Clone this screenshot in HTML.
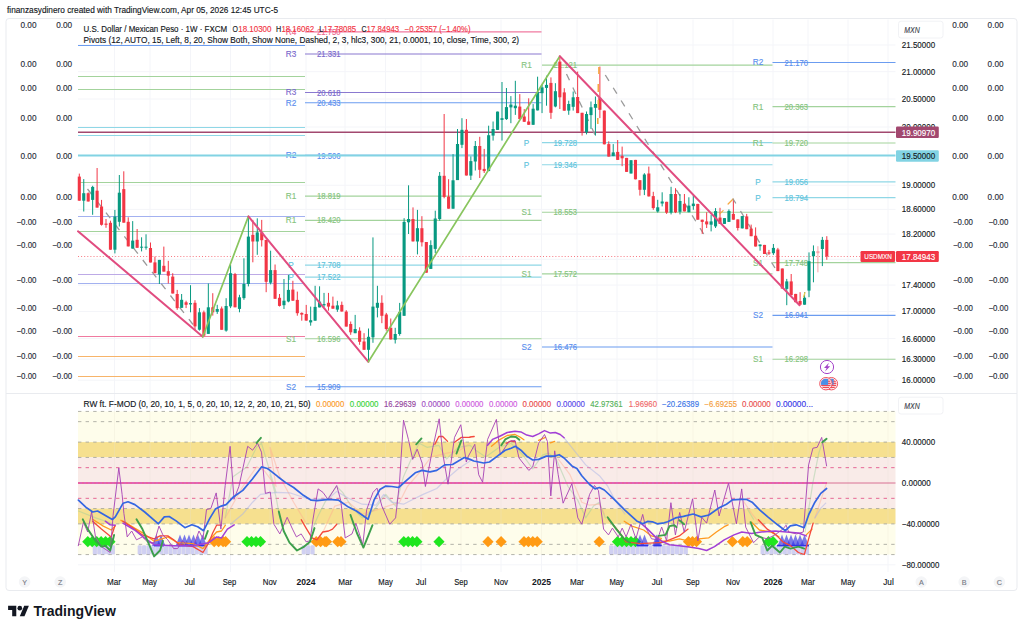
<!DOCTYPE html>
<html><head><meta charset="utf-8"><title>USDMXN</title>
<style>
html,body{margin:0;padding:0;background:#fff;}
body{width:1024px;height:632px;overflow:hidden;font-family:"Liberation Sans", sans-serif;}
svg{display:block;font-family:"Liberation Sans", sans-serif;}
text{font-family:"Liberation Sans", sans-serif;white-space:pre;}
</style></head><body>
<svg width="1024" height="632" viewBox="0 0 1024 632">
<rect x="0" y="0" width="1024" height="632" fill="#ffffff"/>
<text x="7.00" y="13.17" font-size="8.3" fill="#131722" textLength="271.00" lengthAdjust="spacingAndGlyphs" stroke="#131722" stroke-width="0.14" stroke-linejoin="round" >finanzasydinero created with TradingView.com, Apr 05, 2026 12:45 UTC-5</text>
<rect x="6" y="18.5" width="1011" height="572.0" rx="3" fill="#ffffff" stroke="#e9ebef" stroke-width="1"/>
<line x1="114.50" y1="19.50" x2="114.50" y2="572.00" stroke="#f4f5f9" stroke-width="1" />
<line x1="150.00" y1="19.50" x2="150.00" y2="572.00" stroke="#f4f5f9" stroke-width="1" />
<line x1="190.50" y1="19.50" x2="190.50" y2="572.00" stroke="#f4f5f9" stroke-width="1" />
<line x1="230.50" y1="19.50" x2="230.50" y2="572.00" stroke="#f4f5f9" stroke-width="1" />
<line x1="270.00" y1="19.50" x2="270.00" y2="572.00" stroke="#f4f5f9" stroke-width="1" />
<line x1="306.00" y1="19.50" x2="306.00" y2="572.00" stroke="#f4f5f9" stroke-width="1" />
<line x1="345.00" y1="19.50" x2="345.00" y2="572.00" stroke="#f4f5f9" stroke-width="1" />
<line x1="385.50" y1="19.50" x2="385.50" y2="572.00" stroke="#f4f5f9" stroke-width="1" />
<line x1="421.00" y1="19.50" x2="421.00" y2="572.00" stroke="#f4f5f9" stroke-width="1" />
<line x1="461.00" y1="19.50" x2="461.00" y2="572.00" stroke="#f4f5f9" stroke-width="1" />
<line x1="501.00" y1="19.50" x2="501.00" y2="572.00" stroke="#f4f5f9" stroke-width="1" />
<line x1="541.50" y1="19.50" x2="541.50" y2="572.00" stroke="#f4f5f9" stroke-width="1" />
<line x1="577.00" y1="19.50" x2="577.00" y2="572.00" stroke="#f4f5f9" stroke-width="1" />
<line x1="617.00" y1="19.50" x2="617.00" y2="572.00" stroke="#f4f5f9" stroke-width="1" />
<line x1="657.00" y1="19.50" x2="657.00" y2="572.00" stroke="#f4f5f9" stroke-width="1" />
<line x1="693.00" y1="19.50" x2="693.00" y2="572.00" stroke="#f4f5f9" stroke-width="1" />
<line x1="733.00" y1="19.50" x2="733.00" y2="572.00" stroke="#f4f5f9" stroke-width="1" />
<line x1="773.00" y1="19.50" x2="773.00" y2="572.00" stroke="#f4f5f9" stroke-width="1" />
<line x1="808.00" y1="19.50" x2="808.00" y2="572.00" stroke="#f4f5f9" stroke-width="1" />
<line x1="848.00" y1="19.50" x2="848.00" y2="572.00" stroke="#f4f5f9" stroke-width="1" />
<line x1="888.00" y1="19.50" x2="888.00" y2="572.00" stroke="#f4f5f9" stroke-width="1" />
<line x1="78.00" y1="44.99" x2="895.50" y2="44.99" stroke="#f4f5f9" stroke-width="1" />
<line x1="78.00" y1="71.68" x2="895.50" y2="71.68" stroke="#f4f5f9" stroke-width="1" />
<line x1="78.00" y1="99.03" x2="895.50" y2="99.03" stroke="#f4f5f9" stroke-width="1" />
<line x1="78.00" y1="127.04" x2="895.50" y2="127.04" stroke="#f4f5f9" stroke-width="1" />
<line x1="78.00" y1="185.24" x2="895.50" y2="185.24" stroke="#f4f5f9" stroke-width="1" />
<line x1="78.00" y1="209.38" x2="895.50" y2="209.38" stroke="#f4f5f9" stroke-width="1" />
<line x1="78.00" y1="234.05" x2="895.50" y2="234.05" stroke="#f4f5f9" stroke-width="1" />
<line x1="78.00" y1="259.26" x2="895.50" y2="259.26" stroke="#f4f5f9" stroke-width="1" />
<line x1="78.00" y1="285.05" x2="895.50" y2="285.05" stroke="#f4f5f9" stroke-width="1" />
<line x1="78.00" y1="311.44" x2="895.50" y2="311.44" stroke="#f4f5f9" stroke-width="1" />
<line x1="78.00" y1="338.45" x2="895.50" y2="338.45" stroke="#f4f5f9" stroke-width="1" />
<line x1="78.00" y1="359.14" x2="895.50" y2="359.14" stroke="#f4f5f9" stroke-width="1" />
<line x1="78.00" y1="380.22" x2="895.50" y2="380.22" stroke="#f4f5f9" stroke-width="1" />
<line x1="78.00" y1="442.10" x2="895.50" y2="442.10" stroke="#f4f5f9" stroke-width="1" />
<line x1="78.00" y1="483.00" x2="895.50" y2="483.00" stroke="#f4f5f9" stroke-width="1" />
<line x1="78.00" y1="523.90" x2="895.50" y2="523.90" stroke="#f4f5f9" stroke-width="1" />
<line x1="78.00" y1="564.80" x2="895.50" y2="564.80" stroke="#f4f5f9" stroke-width="1" />
<rect x="78.0" y="411.43" width="817.5" height="30.68" fill="#fefdeb"/>
<rect x="78.0" y="442.10" width="817.5" height="15.34" fill="#f6e08f"/>
<rect x="78.0" y="457.44" width="817.5" height="51.12" fill="#f9ebe8"/>
<rect x="78.0" y="508.56" width="817.5" height="15.34" fill="#f6e08f"/>
<rect x="78.0" y="523.90" width="817.5" height="30.68" fill="#fefdeb"/>
<line x1="114.50" y1="411.43" x2="114.50" y2="554.58" stroke="#e6e2d2" stroke-width="1" stroke-opacity="0.28"/>
<line x1="150.00" y1="411.43" x2="150.00" y2="554.58" stroke="#e6e2d2" stroke-width="1" stroke-opacity="0.28"/>
<line x1="190.50" y1="411.43" x2="190.50" y2="554.58" stroke="#e6e2d2" stroke-width="1" stroke-opacity="0.28"/>
<line x1="230.50" y1="411.43" x2="230.50" y2="554.58" stroke="#e6e2d2" stroke-width="1" stroke-opacity="0.28"/>
<line x1="270.00" y1="411.43" x2="270.00" y2="554.58" stroke="#e6e2d2" stroke-width="1" stroke-opacity="0.28"/>
<line x1="306.00" y1="411.43" x2="306.00" y2="554.58" stroke="#e6e2d2" stroke-width="1" stroke-opacity="0.28"/>
<line x1="345.00" y1="411.43" x2="345.00" y2="554.58" stroke="#e6e2d2" stroke-width="1" stroke-opacity="0.28"/>
<line x1="385.50" y1="411.43" x2="385.50" y2="554.58" stroke="#e6e2d2" stroke-width="1" stroke-opacity="0.28"/>
<line x1="421.00" y1="411.43" x2="421.00" y2="554.58" stroke="#e6e2d2" stroke-width="1" stroke-opacity="0.28"/>
<line x1="461.00" y1="411.43" x2="461.00" y2="554.58" stroke="#e6e2d2" stroke-width="1" stroke-opacity="0.28"/>
<line x1="501.00" y1="411.43" x2="501.00" y2="554.58" stroke="#e6e2d2" stroke-width="1" stroke-opacity="0.28"/>
<line x1="541.50" y1="411.43" x2="541.50" y2="554.58" stroke="#e6e2d2" stroke-width="1" stroke-opacity="0.28"/>
<line x1="577.00" y1="411.43" x2="577.00" y2="554.58" stroke="#e6e2d2" stroke-width="1" stroke-opacity="0.28"/>
<line x1="617.00" y1="411.43" x2="617.00" y2="554.58" stroke="#e6e2d2" stroke-width="1" stroke-opacity="0.28"/>
<line x1="657.00" y1="411.43" x2="657.00" y2="554.58" stroke="#e6e2d2" stroke-width="1" stroke-opacity="0.28"/>
<line x1="693.00" y1="411.43" x2="693.00" y2="554.58" stroke="#e6e2d2" stroke-width="1" stroke-opacity="0.28"/>
<line x1="733.00" y1="411.43" x2="733.00" y2="554.58" stroke="#e6e2d2" stroke-width="1" stroke-opacity="0.28"/>
<line x1="773.00" y1="411.43" x2="773.00" y2="554.58" stroke="#e6e2d2" stroke-width="1" stroke-opacity="0.28"/>
<line x1="808.00" y1="411.43" x2="808.00" y2="554.58" stroke="#e6e2d2" stroke-width="1" stroke-opacity="0.28"/>
<line x1="848.00" y1="411.43" x2="848.00" y2="554.58" stroke="#e6e2d2" stroke-width="1" stroke-opacity="0.28"/>
<line x1="888.00" y1="411.43" x2="888.00" y2="554.58" stroke="#e6e2d2" stroke-width="1" stroke-opacity="0.28"/>
<line x1="78.00" y1="411.43" x2="895.50" y2="411.43" stroke="#a0a098" stroke-width="0.8" stroke-dasharray="3.4 4.2"/>
<line x1="78.00" y1="421.65" x2="895.50" y2="421.65" stroke="#a0a098" stroke-width="0.8" stroke-dasharray="3.4 4.2"/>
<line x1="78.00" y1="442.10" x2="895.50" y2="442.10" stroke="#a0a098" stroke-width="0.8" stroke-dasharray="3.4 4.2"/>
<line x1="78.00" y1="457.44" x2="895.50" y2="457.44" stroke="#a0a098" stroke-width="0.8" stroke-dasharray="3.4 4.2"/>
<line x1="78.00" y1="508.56" x2="895.50" y2="508.56" stroke="#a0a098" stroke-width="0.8" stroke-dasharray="3.4 4.2"/>
<line x1="78.00" y1="523.90" x2="895.50" y2="523.90" stroke="#a0a098" stroke-width="0.8" stroke-dasharray="3.4 4.2"/>
<line x1="78.00" y1="544.35" x2="895.50" y2="544.35" stroke="#a0a098" stroke-width="0.8" stroke-dasharray="3.4 4.2"/>
<line x1="78.00" y1="554.58" x2="895.50" y2="554.58" stroke="#a0a098" stroke-width="0.8" stroke-dasharray="3.4 4.2"/>
<line x1="78.00" y1="467.66" x2="895.50" y2="467.66" stroke="#e35a8c" stroke-width="0.9" stroke-dasharray="3.4 4.2"/>
<line x1="78.00" y1="498.34" x2="895.50" y2="498.34" stroke="#e35a8c" stroke-width="0.9" stroke-dasharray="3.4 4.2"/>
<line x1="78.00" y1="45.50" x2="305.00" y2="45.50" stroke="#6b9cf0" stroke-width="1.0" />
<line x1="78.00" y1="76.50" x2="305.00" y2="76.50" stroke="#a3d39c" stroke-width="1.0" />
<line x1="78.00" y1="89.50" x2="305.00" y2="89.50" stroke="#a3d39c" stroke-width="1.0" />
<line x1="78.00" y1="127.50" x2="305.00" y2="127.50" stroke="#8fd7e6" stroke-width="1.0" />
<line x1="78.00" y1="135.50" x2="305.00" y2="135.50" stroke="#8fd7e6" stroke-width="1.0" />
<line x1="78.00" y1="182.50" x2="305.00" y2="182.50" stroke="#a3d39c" stroke-width="1.0" />
<line x1="78.00" y1="216.50" x2="305.00" y2="216.50" stroke="#a3b1f0" stroke-width="1.0" />
<line x1="78.00" y1="231.50" x2="305.00" y2="231.50" stroke="#a3d39c" stroke-width="1.0" />
<line x1="78.00" y1="274.50" x2="305.00" y2="274.50" stroke="#bdaae6" stroke-width="1.0" />
<line x1="78.00" y1="283.50" x2="305.00" y2="283.50" stroke="#a3b1f0" stroke-width="1.0" />
<line x1="78.00" y1="336.50" x2="305.00" y2="336.50" stroke="#f07aa0" stroke-width="1.0" />
<line x1="78.00" y1="356.50" x2="305.00" y2="356.50" stroke="#f7b46a" stroke-width="1.0" />
<line x1="78.00" y1="376.50" x2="305.00" y2="376.50" stroke="#f7b46a" stroke-width="1.0" />
<line x1="305.00" y1="31.87" x2="541.50" y2="31.87" stroke="#f07aa0" stroke-width="1.1" />
<text x="291.00" y="34.81" font-size="8.2" fill="#ee6690" text-anchor="middle" stroke="#ee6690" stroke-width="0.14" stroke-linejoin="round" >R4</text>
<text x="317.00" y="34.95" font-size="8.6" fill="#ee6690" textLength="23.50" lengthAdjust="spacingAndGlyphs" stroke="#ee6690" stroke-width="0.14" stroke-linejoin="round" >21.750</text>
<line x1="305.00" y1="53.94" x2="541.50" y2="53.94" stroke="#8a79d0" stroke-width="1.1" />
<text x="291.00" y="56.88" font-size="8.2" fill="#7b69cc" text-anchor="middle" stroke="#7b69cc" stroke-width="0.14" stroke-linejoin="round" >R3</text>
<text x="317.00" y="57.02" font-size="8.6" fill="#7b69cc" textLength="23.50" lengthAdjust="spacingAndGlyphs" stroke="#7b69cc" stroke-width="0.14" stroke-linejoin="round" >21.331</text>
<line x1="305.00" y1="92.51" x2="541.50" y2="92.51" stroke="#8a79d0" stroke-width="1.1" />
<text x="291.00" y="95.45" font-size="8.2" fill="#7b69cc" text-anchor="middle" stroke="#7b69cc" stroke-width="0.14" stroke-linejoin="round" >R3</text>
<text x="317.00" y="95.59" font-size="8.6" fill="#7b69cc" textLength="23.50" lengthAdjust="spacingAndGlyphs" stroke="#7b69cc" stroke-width="0.14" stroke-linejoin="round" >20.618</text>
<line x1="305.00" y1="102.74" x2="541.50" y2="102.74" stroke="#6b9cf0" stroke-width="1.1" />
<text x="291.00" y="105.68" font-size="8.2" fill="#5b8fee" text-anchor="middle" stroke="#5b8fee" stroke-width="0.14" stroke-linejoin="round" >R2</text>
<text x="317.00" y="105.82" font-size="8.6" fill="#5b8fee" textLength="23.50" lengthAdjust="spacingAndGlyphs" stroke="#5b8fee" stroke-width="0.14" stroke-linejoin="round" >20.433</text>
<line x1="305.00" y1="155.42" x2="541.50" y2="155.42" stroke="#6b9cf0" stroke-width="1.1" />
<text x="291.00" y="158.35" font-size="8.2" fill="#5b8fee" text-anchor="middle" stroke="#5b8fee" stroke-width="0.14" stroke-linejoin="round" >R2</text>
<text x="317.00" y="158.50" font-size="8.6" fill="#5b8fee" textLength="23.50" lengthAdjust="spacingAndGlyphs" stroke="#5b8fee" stroke-width="0.14" stroke-linejoin="round" >19.506</text>
<line x1="305.00" y1="196.10" x2="541.50" y2="196.10" stroke="#a3d39c" stroke-width="1.1" />
<text x="291.00" y="199.04" font-size="8.2" fill="#86c480" text-anchor="middle" stroke="#86c480" stroke-width="0.14" stroke-linejoin="round" >R1</text>
<text x="317.00" y="199.18" font-size="8.6" fill="#86c480" textLength="23.50" lengthAdjust="spacingAndGlyphs" stroke="#86c480" stroke-width="0.14" stroke-linejoin="round" >18.819</text>
<line x1="305.00" y1="220.41" x2="541.50" y2="220.41" stroke="#a3d39c" stroke-width="1.1" />
<text x="291.00" y="223.35" font-size="8.2" fill="#86c480" text-anchor="middle" stroke="#86c480" stroke-width="0.14" stroke-linejoin="round" >R1</text>
<text x="317.00" y="223.49" font-size="8.6" fill="#86c480" textLength="23.50" lengthAdjust="spacingAndGlyphs" stroke="#86c480" stroke-width="0.14" stroke-linejoin="round" >18.420</text>
<line x1="305.00" y1="265.14" x2="541.50" y2="265.14" stroke="#8fd7e6" stroke-width="1.1" />
<text x="291.00" y="268.08" font-size="8.2" fill="#5fc4dd" text-anchor="middle" stroke="#5fc4dd" stroke-width="0.14" stroke-linejoin="round" >P</text>
<text x="317.00" y="268.22" font-size="8.6" fill="#5fc4dd" textLength="23.50" lengthAdjust="spacingAndGlyphs" stroke="#5fc4dd" stroke-width="0.14" stroke-linejoin="round" >17.708</text>
<line x1="305.00" y1="277.12" x2="541.50" y2="277.12" stroke="#8fd7e6" stroke-width="1.1" />
<text x="291.00" y="280.06" font-size="8.2" fill="#5fc4dd" text-anchor="middle" stroke="#5fc4dd" stroke-width="0.14" stroke-linejoin="round" >P</text>
<text x="317.00" y="280.20" font-size="8.6" fill="#5fc4dd" textLength="23.50" lengthAdjust="spacingAndGlyphs" stroke="#5fc4dd" stroke-width="0.14" stroke-linejoin="round" >17.522</text>
<line x1="305.00" y1="338.73" x2="541.50" y2="338.73" stroke="#a3d39c" stroke-width="1.1" />
<text x="291.00" y="341.66" font-size="8.2" fill="#86c480" text-anchor="middle" stroke="#86c480" stroke-width="0.14" stroke-linejoin="round" >S1</text>
<text x="317.00" y="341.80" font-size="8.6" fill="#86c480" textLength="23.50" lengthAdjust="spacingAndGlyphs" stroke="#86c480" stroke-width="0.14" stroke-linejoin="round" >16.596</text>
<line x1="305.00" y1="386.69" x2="541.50" y2="386.69" stroke="#6b9cf0" stroke-width="1.1" />
<text x="291.00" y="389.63" font-size="8.2" fill="#5b8fee" text-anchor="middle" stroke="#5b8fee" stroke-width="0.14" stroke-linejoin="round" >S2</text>
<text x="317.00" y="389.77" font-size="8.6" fill="#5b8fee" textLength="23.50" lengthAdjust="spacingAndGlyphs" stroke="#5b8fee" stroke-width="0.14" stroke-linejoin="round" >15.909</text>
<line x1="542.00" y1="65.17" x2="772.50" y2="65.17" stroke="#a3d39c" stroke-width="1.1" />
<text x="526.50" y="68.10" font-size="8.2" fill="#86c480" text-anchor="middle" stroke="#86c480" stroke-width="0.14" stroke-linejoin="round" >R1</text>
<text x="553.50" y="68.24" font-size="8.6" fill="#86c480" textLength="23.50" lengthAdjust="spacingAndGlyphs" stroke="#86c480" stroke-width="0.14" stroke-linejoin="round" >21.121</text>
<line x1="542.00" y1="142.58" x2="772.50" y2="142.58" stroke="#8fd7e6" stroke-width="1.1" />
<text x="526.50" y="145.51" font-size="8.2" fill="#5fc4dd" text-anchor="middle" stroke="#5fc4dd" stroke-width="0.14" stroke-linejoin="round" >P</text>
<text x="553.50" y="145.66" font-size="8.6" fill="#5fc4dd" textLength="23.50" lengthAdjust="spacingAndGlyphs" stroke="#5fc4dd" stroke-width="0.14" stroke-linejoin="round" >19.728</text>
<line x1="542.00" y1="164.76" x2="772.50" y2="164.76" stroke="#8fd7e6" stroke-width="1.1" />
<text x="526.50" y="167.70" font-size="8.2" fill="#5fc4dd" text-anchor="middle" stroke="#5fc4dd" stroke-width="0.14" stroke-linejoin="round" >P</text>
<text x="553.50" y="167.84" font-size="8.6" fill="#5fc4dd" textLength="23.50" lengthAdjust="spacingAndGlyphs" stroke="#5fc4dd" stroke-width="0.14" stroke-linejoin="round" >19.346</text>
<line x1="542.00" y1="212.25" x2="772.50" y2="212.25" stroke="#a3d39c" stroke-width="1.1" />
<text x="526.50" y="215.19" font-size="8.2" fill="#86c480" text-anchor="middle" stroke="#86c480" stroke-width="0.14" stroke-linejoin="round" >S1</text>
<text x="553.50" y="215.33" font-size="8.6" fill="#86c480" textLength="23.50" lengthAdjust="spacingAndGlyphs" stroke="#86c480" stroke-width="0.14" stroke-linejoin="round" >18.553</text>
<line x1="542.00" y1="273.89" x2="772.50" y2="273.89" stroke="#a3d39c" stroke-width="1.1" />
<text x="526.50" y="276.82" font-size="8.2" fill="#86c480" text-anchor="middle" stroke="#86c480" stroke-width="0.14" stroke-linejoin="round" >S1</text>
<text x="553.50" y="276.97" font-size="8.6" fill="#86c480" textLength="23.50" lengthAdjust="spacingAndGlyphs" stroke="#86c480" stroke-width="0.14" stroke-linejoin="round" >17.572</text>
<line x1="542.00" y1="346.96" x2="772.50" y2="346.96" stroke="#6b9cf0" stroke-width="1.1" />
<text x="526.50" y="349.89" font-size="8.2" fill="#5b8fee" text-anchor="middle" stroke="#5b8fee" stroke-width="0.14" stroke-linejoin="round" >S2</text>
<text x="553.50" y="350.04" font-size="8.6" fill="#5b8fee" textLength="23.50" lengthAdjust="spacingAndGlyphs" stroke="#5b8fee" stroke-width="0.14" stroke-linejoin="round" >16.476</text>
<line x1="772.50" y1="62.54" x2="895.50" y2="62.54" stroke="#6b9cf0" stroke-width="1.1" />
<text x="758.00" y="65.47" font-size="8.2" fill="#5b8fee" text-anchor="middle" stroke="#5b8fee" stroke-width="0.14" stroke-linejoin="round" >R2</text>
<text x="784.50" y="65.62" font-size="8.6" fill="#5b8fee" textLength="23.50" lengthAdjust="spacingAndGlyphs" stroke="#5b8fee" stroke-width="0.14" stroke-linejoin="round" >21.170</text>
<line x1="772.50" y1="106.63" x2="895.50" y2="106.63" stroke="#a3d39c" stroke-width="1.1" />
<text x="758.00" y="109.57" font-size="8.2" fill="#86c480" text-anchor="middle" stroke="#86c480" stroke-width="0.14" stroke-linejoin="round" >R1</text>
<text x="784.50" y="109.71" font-size="8.6" fill="#86c480" textLength="23.50" lengthAdjust="spacingAndGlyphs" stroke="#86c480" stroke-width="0.14" stroke-linejoin="round" >20.363</text>
<line x1="772.50" y1="143.04" x2="895.50" y2="143.04" stroke="#a3d39c" stroke-width="1.1" />
<text x="758.00" y="145.97" font-size="8.2" fill="#86c480" text-anchor="middle" stroke="#86c480" stroke-width="0.14" stroke-linejoin="round" >R1</text>
<text x="784.50" y="146.12" font-size="8.6" fill="#86c480" textLength="23.50" lengthAdjust="spacingAndGlyphs" stroke="#86c480" stroke-width="0.14" stroke-linejoin="round" >19.720</text>
<line x1="772.50" y1="181.90" x2="895.50" y2="181.90" stroke="#8fd7e6" stroke-width="1.1" />
<text x="758.00" y="184.84" font-size="8.2" fill="#5fc4dd" text-anchor="middle" stroke="#5fc4dd" stroke-width="0.14" stroke-linejoin="round" >P</text>
<text x="784.50" y="184.98" font-size="8.6" fill="#5fc4dd" textLength="23.50" lengthAdjust="spacingAndGlyphs" stroke="#5fc4dd" stroke-width="0.14" stroke-linejoin="round" >19.056</text>
<line x1="772.50" y1="197.61" x2="895.50" y2="197.61" stroke="#8fd7e6" stroke-width="1.1" />
<text x="758.00" y="200.54" font-size="8.2" fill="#5fc4dd" text-anchor="middle" stroke="#5fc4dd" stroke-width="0.14" stroke-linejoin="round" >P</text>
<text x="784.50" y="200.69" font-size="8.6" fill="#5fc4dd" textLength="23.50" lengthAdjust="spacingAndGlyphs" stroke="#5fc4dd" stroke-width="0.14" stroke-linejoin="round" >18.794</text>
<line x1="772.50" y1="262.58" x2="895.50" y2="262.58" stroke="#a3d39c" stroke-width="1.1" />
<text x="758.00" y="265.52" font-size="8.2" fill="#86c480" text-anchor="middle" stroke="#86c480" stroke-width="0.14" stroke-linejoin="round" >S1</text>
<text x="784.50" y="265.66" font-size="8.6" fill="#86c480" textLength="23.50" lengthAdjust="spacingAndGlyphs" stroke="#86c480" stroke-width="0.14" stroke-linejoin="round" >17.748</text>
<line x1="772.50" y1="315.38" x2="895.50" y2="315.38" stroke="#6b9cf0" stroke-width="1.1" />
<text x="758.00" y="318.32" font-size="8.2" fill="#5b8fee" text-anchor="middle" stroke="#5b8fee" stroke-width="0.14" stroke-linejoin="round" >S2</text>
<text x="784.50" y="318.46" font-size="8.6" fill="#5b8fee" textLength="23.50" lengthAdjust="spacingAndGlyphs" stroke="#5b8fee" stroke-width="0.14" stroke-linejoin="round" >16.941</text>
<line x1="772.50" y1="359.28" x2="895.50" y2="359.28" stroke="#a3d39c" stroke-width="1.1" />
<text x="758.00" y="362.22" font-size="8.2" fill="#86c480" text-anchor="middle" stroke="#86c480" stroke-width="0.14" stroke-linejoin="round" >S1</text>
<text x="784.50" y="362.36" font-size="8.6" fill="#86c480" textLength="23.50" lengthAdjust="spacingAndGlyphs" stroke="#86c480" stroke-width="0.14" stroke-linejoin="round" >16.298</text>
<line x1="78.00" y1="132.18" x2="895.50" y2="132.18" stroke="#a2486f" stroke-width="1.6" />
<line x1="78.00" y1="155.47" x2="895.50" y2="155.47" stroke="#82d3e3" stroke-width="2.0" />
<line x1="78.00" y1="256.50" x2="860.00" y2="256.50" stroke="#f23645" stroke-width="0.9" stroke-dasharray="1 2.1" stroke-opacity="0.75"/>
<line x1="87.50" y1="189.00" x2="193.00" y2="324.50" stroke="#9a9a9a" stroke-width="1.3" stroke-dasharray="7 8" stroke-linecap="butt"/>
<line x1="566.50" y1="74.00" x2="596.50" y2="138.00" stroke="#9a9a9a" stroke-width="1.3" stroke-dasharray="7 8" stroke-linecap="butt"/>
<line x1="605.30" y1="75.00" x2="704.30" y2="235.00" stroke="#9a9a9a" stroke-width="1.3" stroke-dasharray="7 8" stroke-linecap="butt"/>
<line x1="740.50" y1="211.00" x2="775.00" y2="268.00" stroke="#9a9a9a" stroke-width="1.3" stroke-dasharray="7 8" stroke-linecap="butt"/>
<g><line x1="79.30" y1="173.6" x2="79.30" y2="200.7" stroke="#f23645" stroke-width="1"/><rect x="77.75" y="176.6" width="3.1" height="24.1" fill="#f23645"/></g>
<g><line x1="83.75" y1="179.1" x2="83.75" y2="211.5" stroke="#089981" stroke-width="1"/><rect x="82.20" y="193.2" width="3.1" height="7.5" fill="#089981"/></g>
<g><line x1="88.20" y1="192.4" x2="88.20" y2="201.5" stroke="#f23645" stroke-width="1"/><rect x="86.65" y="193.2" width="3.1" height="8.3" fill="#f23645"/></g>
<g><line x1="92.65" y1="185.8" x2="92.65" y2="214.8" stroke="#089981" stroke-width="1"/><rect x="91.10" y="186.9" width="3.1" height="13.0" fill="#089981"/></g>
<g><line x1="97.10" y1="168.0" x2="97.10" y2="207.7" stroke="#f23645" stroke-width="1"/><rect x="95.55" y="190.7" width="3.1" height="16.9" fill="#f23645"/></g>
<g><line x1="101.55" y1="199.9" x2="101.55" y2="225.6" stroke="#f23645" stroke-width="1"/><rect x="100.00" y="206.5" width="3.1" height="18.3" fill="#f23645"/></g>
<g><line x1="106.00" y1="219.0" x2="106.00" y2="227.8" stroke="#f23645" stroke-width="1"/><rect x="104.45" y="223.6" width="3.1" height="1.2" fill="#f23645"/></g>
<g><line x1="110.45" y1="220.7" x2="110.45" y2="249.7" stroke="#f23645" stroke-width="1"/><rect x="108.90" y="222.8" width="3.1" height="26.9" fill="#f23645"/></g>
<g><line x1="114.90" y1="209.9" x2="114.90" y2="253.4" stroke="#089981" stroke-width="1"/><rect x="113.35" y="216.5" width="3.1" height="33.2" fill="#089981"/></g>
<g><line x1="119.34" y1="175.0" x2="119.34" y2="226.5" stroke="#089981" stroke-width="1"/><rect x="117.79" y="192.7" width="3.1" height="29.1" fill="#089981"/></g>
<g><line x1="123.79" y1="171.3" x2="123.79" y2="222.6" stroke="#f23645" stroke-width="1"/><rect x="122.24" y="189.1" width="3.1" height="33.6" fill="#f23645"/></g>
<g><line x1="128.24" y1="217.3" x2="128.24" y2="246.4" stroke="#f23645" stroke-width="1"/><rect x="126.69" y="221.8" width="3.1" height="24.6" fill="#f23645"/></g>
<g><line x1="132.69" y1="221.1" x2="132.69" y2="248.6" stroke="#089981" stroke-width="1"/><rect x="131.14" y="240.6" width="3.1" height="8.0" fill="#089981"/></g>
<g><line x1="137.14" y1="229.0" x2="137.14" y2="247.7" stroke="#f23645" stroke-width="1"/><rect x="135.59" y="239.8" width="3.1" height="8.0" fill="#f23645"/></g>
<g><line x1="141.59" y1="237.3" x2="141.59" y2="251.4" stroke="#089981" stroke-width="1"/><rect x="140.04" y="246.7" width="3.1" height="1.0" fill="#089981"/></g>
<g><line x1="146.04" y1="234.3" x2="146.04" y2="249.7" stroke="#089981" stroke-width="1"/><rect x="144.49" y="246.7" width="3.1" height="1.0" fill="#089981"/></g>
<g><line x1="150.49" y1="242.5" x2="150.49" y2="262.4" stroke="#f23645" stroke-width="1"/><rect x="148.94" y="248.0" width="3.1" height="14.5" fill="#f23645"/></g>
<g><line x1="154.94" y1="256.6" x2="154.94" y2="273.2" stroke="#f23645" stroke-width="1"/><rect x="153.39" y="262.4" width="3.1" height="10.8" fill="#f23645"/></g>
<g><line x1="159.39" y1="259.9" x2="159.39" y2="284.0" stroke="#089981" stroke-width="1"/><rect x="157.84" y="259.9" width="3.1" height="14.6" fill="#089981"/></g>
<g><line x1="163.84" y1="246.6" x2="163.84" y2="271.6" stroke="#f23645" stroke-width="1"/><rect x="162.29" y="265.8" width="3.1" height="5.8" fill="#f23645"/></g>
<g><line x1="168.29" y1="260.8" x2="168.29" y2="283.5" stroke="#f23645" stroke-width="1"/><rect x="166.74" y="271.2" width="3.1" height="4.5" fill="#f23645"/></g>
<g><line x1="172.74" y1="273.2" x2="172.74" y2="293.5" stroke="#f23645" stroke-width="1"/><rect x="171.19" y="276.6" width="3.1" height="16.9" fill="#f23645"/></g>
<g><line x1="177.19" y1="289.9" x2="177.19" y2="309.8" stroke="#f23645" stroke-width="1"/><rect x="175.64" y="294.0" width="3.1" height="14.1" fill="#f23645"/></g>
<g><line x1="181.64" y1="294.0" x2="181.64" y2="307.8" stroke="#089981" stroke-width="1"/><rect x="180.09" y="299.8" width="3.1" height="8.0" fill="#089981"/></g>
<g><line x1="186.09" y1="300.7" x2="186.09" y2="308.1" stroke="#f23645" stroke-width="1"/><rect x="184.54" y="302.3" width="3.1" height="2.5" fill="#f23645"/></g>
<g><line x1="190.53" y1="285.2" x2="190.53" y2="312.3" stroke="#089981" stroke-width="1"/><rect x="188.98" y="303.1" width="3.1" height="1.3" fill="#089981"/></g>
<g><line x1="194.98" y1="300.2" x2="194.98" y2="330.6" stroke="#f23645" stroke-width="1"/><rect x="193.43" y="302.8" width="3.1" height="23.6" fill="#f23645"/></g>
<g><line x1="199.43" y1="308.1" x2="199.43" y2="330.6" stroke="#089981" stroke-width="1"/><rect x="197.88" y="312.3" width="3.1" height="17.4" fill="#089981"/></g>
<g><line x1="203.88" y1="310.6" x2="203.88" y2="336.7" stroke="#f23645" stroke-width="1"/><rect x="202.33" y="312.3" width="3.1" height="23.3" fill="#f23645"/></g>
<g><line x1="208.33" y1="283.5" x2="208.33" y2="333.9" stroke="#089981" stroke-width="1"/><rect x="206.78" y="307.3" width="3.1" height="26.6" fill="#089981"/></g>
<g><line x1="212.78" y1="293.2" x2="212.78" y2="315.6" stroke="#f23645" stroke-width="1"/><rect x="211.23" y="307.3" width="3.1" height="5.0" fill="#f23645"/></g>
<g><line x1="217.23" y1="304.8" x2="217.23" y2="313.9" stroke="#089981" stroke-width="1"/><rect x="215.68" y="309.0" width="3.1" height="2.8" fill="#089981"/></g>
<g><line x1="221.68" y1="306.5" x2="221.68" y2="329.7" stroke="#f23645" stroke-width="1"/><rect x="220.13" y="308.5" width="3.1" height="21.3" fill="#f23645"/></g>
<g><line x1="226.13" y1="298.2" x2="226.13" y2="331.7" stroke="#089981" stroke-width="1"/><rect x="224.58" y="306.0" width="3.1" height="24.6" fill="#089981"/></g>
<g><line x1="230.58" y1="264.9" x2="230.58" y2="308.1" stroke="#089981" stroke-width="1"/><rect x="229.03" y="273.2" width="3.1" height="33.2" fill="#089981"/></g>
<g><line x1="235.03" y1="272.9" x2="235.03" y2="307.3" stroke="#f23645" stroke-width="1"/><rect x="233.48" y="274.1" width="3.1" height="33.2" fill="#f23645"/></g>
<g><line x1="239.48" y1="294.8" x2="239.48" y2="312.3" stroke="#089981" stroke-width="1"/><rect x="237.93" y="297.3" width="3.1" height="11.6" fill="#089981"/></g>
<g><line x1="243.93" y1="258.3" x2="243.93" y2="299.8" stroke="#089981" stroke-width="1"/><rect x="242.38" y="284.0" width="3.1" height="14.1" fill="#089981"/></g>
<g><line x1="248.38" y1="216.6" x2="248.38" y2="286.4" stroke="#089981" stroke-width="1"/><rect x="246.83" y="236.6" width="3.1" height="47.4" fill="#089981"/></g>
<g><line x1="252.83" y1="219.9" x2="252.83" y2="262.3" stroke="#f23645" stroke-width="1"/><rect x="251.28" y="234.9" width="3.1" height="6.6" fill="#f23645"/></g>
<g><line x1="257.28" y1="218.3" x2="257.28" y2="254.8" stroke="#089981" stroke-width="1"/><rect x="255.73" y="232.4" width="3.1" height="9.1" fill="#089981"/></g>
<g><line x1="261.73" y1="219.9" x2="261.73" y2="246.5" stroke="#f23645" stroke-width="1"/><rect x="260.18" y="232.4" width="3.1" height="7.8" fill="#f23645"/></g>
<g><line x1="266.17" y1="239.9" x2="266.17" y2="292.2" stroke="#f23645" stroke-width="1"/><rect x="264.62" y="239.9" width="3.1" height="41.9" fill="#f23645"/></g>
<g><line x1="270.62" y1="250.7" x2="270.62" y2="284.4" stroke="#089981" stroke-width="1"/><rect x="269.07" y="270.1" width="3.1" height="12.6" fill="#089981"/></g>
<g><line x1="275.07" y1="264.5" x2="275.07" y2="298.9" stroke="#f23645" stroke-width="1"/><rect x="273.52" y="270.1" width="3.1" height="28.7" fill="#f23645"/></g>
<g><line x1="279.52" y1="294.0" x2="279.52" y2="306.5" stroke="#f23645" stroke-width="1"/><rect x="277.97" y="297.8" width="3.1" height="8.1" fill="#f23645"/></g>
<g><line x1="283.97" y1="279.0" x2="283.97" y2="309.0" stroke="#089981" stroke-width="1"/><rect x="282.42" y="300.7" width="3.1" height="4.5" fill="#089981"/></g>
<g><line x1="288.42" y1="274.9" x2="288.42" y2="302.3" stroke="#089981" stroke-width="1"/><rect x="286.87" y="289.9" width="3.1" height="11.6" fill="#089981"/></g>
<g><line x1="292.87" y1="280.8" x2="292.87" y2="300.8" stroke="#f23645" stroke-width="1"/><rect x="291.32" y="289.6" width="3.1" height="11.1" fill="#f23645"/></g>
<g><line x1="297.32" y1="291.6" x2="297.32" y2="315.7" stroke="#f23645" stroke-width="1"/><rect x="295.77" y="299.9" width="3.1" height="13.3" fill="#f23645"/></g>
<g><line x1="301.77" y1="312.4" x2="301.77" y2="320.7" stroke="#f23645" stroke-width="1"/><rect x="300.22" y="312.9" width="3.1" height="1.7" fill="#f23645"/></g>
<g><line x1="306.22" y1="304.9" x2="306.22" y2="320.7" stroke="#f23645" stroke-width="1"/><rect x="304.67" y="314.0" width="3.1" height="6.6" fill="#f23645"/></g>
<g><line x1="310.67" y1="306.6" x2="310.67" y2="325.7" stroke="#089981" stroke-width="1"/><rect x="309.12" y="320.2" width="3.1" height="2.2" fill="#089981"/></g>
<g><line x1="315.12" y1="285.8" x2="315.12" y2="320.7" stroke="#089981" stroke-width="1"/><rect x="313.57" y="306.9" width="3.1" height="13.8" fill="#089981"/></g>
<g><line x1="319.57" y1="286.3" x2="319.57" y2="307.4" stroke="#089981" stroke-width="1"/><rect x="318.02" y="301.6" width="3.1" height="5.8" fill="#089981"/></g>
<g><line x1="324.02" y1="292.9" x2="324.02" y2="307.4" stroke="#089981" stroke-width="1"/><rect x="322.47" y="304.1" width="3.1" height="1.2" fill="#089981"/></g>
<g><line x1="328.47" y1="292.9" x2="328.47" y2="310.7" stroke="#f23645" stroke-width="1"/><rect x="326.92" y="302.8" width="3.1" height="3.8" fill="#f23645"/></g>
<g><line x1="332.92" y1="296.6" x2="332.92" y2="308.7" stroke="#f23645" stroke-width="1"/><rect x="331.37" y="305.7" width="3.1" height="3.0" fill="#f23645"/></g>
<g><line x1="337.37" y1="300.8" x2="337.37" y2="311.9" stroke="#089981" stroke-width="1"/><rect x="335.82" y="305.4" width="3.1" height="4.2" fill="#089981"/></g>
<g><line x1="341.81" y1="301.6" x2="341.81" y2="311.6" stroke="#f23645" stroke-width="1"/><rect x="340.26" y="304.9" width="3.1" height="6.6" fill="#f23645"/></g>
<g><line x1="346.26" y1="310.2" x2="346.26" y2="326.5" stroke="#f23645" stroke-width="1"/><rect x="344.71" y="311.6" width="3.1" height="15.0" fill="#f23645"/></g>
<g><line x1="350.71" y1="321.5" x2="350.71" y2="334.8" stroke="#f23645" stroke-width="1"/><rect x="349.16" y="324.0" width="3.1" height="8.3" fill="#f23645"/></g>
<g><line x1="355.16" y1="314.9" x2="355.16" y2="333.2" stroke="#089981" stroke-width="1"/><rect x="353.61" y="329.0" width="3.1" height="4.2" fill="#089981"/></g>
<g><line x1="359.61" y1="327.3" x2="359.61" y2="344.8" stroke="#f23645" stroke-width="1"/><rect x="358.06" y="330.7" width="3.1" height="11.1" fill="#f23645"/></g>
<g><line x1="364.06" y1="333.2" x2="364.06" y2="349.8" stroke="#f23645" stroke-width="1"/><rect x="362.51" y="341.5" width="3.1" height="8.3" fill="#f23645"/></g>
<g><line x1="368.51" y1="328.5" x2="368.51" y2="361.4" stroke="#089981" stroke-width="1"/><rect x="366.96" y="336.8" width="3.1" height="13.0" fill="#089981"/></g>
<g><line x1="372.96" y1="237.4" x2="372.96" y2="342.8" stroke="#089981" stroke-width="1"/><rect x="371.41" y="306.6" width="3.1" height="30.7" fill="#089981"/></g>
<g><line x1="377.41" y1="285.8" x2="377.41" y2="317.4" stroke="#089981" stroke-width="1"/><rect x="375.86" y="302.8" width="3.1" height="5.0" fill="#089981"/></g>
<g><line x1="381.86" y1="295.3" x2="381.86" y2="323.2" stroke="#f23645" stroke-width="1"/><rect x="380.31" y="302.8" width="3.1" height="13.0" fill="#f23645"/></g>
<g><line x1="386.31" y1="312.9" x2="386.31" y2="330.7" stroke="#f23645" stroke-width="1"/><rect x="384.76" y="314.5" width="3.1" height="14.5" fill="#f23645"/></g>
<g><line x1="390.76" y1="318.5" x2="390.76" y2="339.5" stroke="#f23645" stroke-width="1"/><rect x="389.21" y="327.8" width="3.1" height="11.6" fill="#f23645"/></g>
<g><line x1="395.21" y1="327.8" x2="395.21" y2="343.5" stroke="#089981" stroke-width="1"/><rect x="393.66" y="334.0" width="3.1" height="5.8" fill="#089981"/></g>
<g><line x1="399.66" y1="302.9" x2="399.66" y2="335.7" stroke="#089981" stroke-width="1"/><rect x="398.11" y="311.9" width="3.1" height="22.1" fill="#089981"/></g>
<g><line x1="404.11" y1="218.2" x2="404.11" y2="315.7" stroke="#089981" stroke-width="1"/><rect x="402.56" y="221.9" width="3.1" height="93.9" fill="#089981"/></g>
<g><line x1="408.56" y1="185.3" x2="408.56" y2="234.0" stroke="#089981" stroke-width="1"/><rect x="407.01" y="219.0" width="3.1" height="3.3" fill="#089981"/></g>
<g><line x1="413.00" y1="207.4" x2="413.00" y2="241.5" stroke="#f23645" stroke-width="1"/><rect x="411.45" y="219.0" width="3.1" height="22.4" fill="#f23645"/></g>
<g><line x1="417.45" y1="209.9" x2="417.45" y2="254.4" stroke="#089981" stroke-width="1"/><rect x="415.90" y="228.2" width="3.1" height="13.3" fill="#089981"/></g>
<g><line x1="421.90" y1="216.2" x2="421.90" y2="246.5" stroke="#f23645" stroke-width="1"/><rect x="420.35" y="228.2" width="3.1" height="14.1" fill="#f23645"/></g>
<g><line x1="426.35" y1="242.0" x2="426.35" y2="272.7" stroke="#f23645" stroke-width="1"/><rect x="424.80" y="242.0" width="3.1" height="30.7" fill="#f23645"/></g>
<g><line x1="430.80" y1="240.3" x2="430.80" y2="268.9" stroke="#089981" stroke-width="1"/><rect x="429.25" y="245.1" width="3.1" height="23.8" fill="#089981"/></g>
<g><line x1="435.25" y1="210.7" x2="435.25" y2="253.1" stroke="#089981" stroke-width="1"/><rect x="433.70" y="218.5" width="3.1" height="30.4" fill="#089981"/></g>
<g><line x1="439.70" y1="172.0" x2="439.70" y2="220.7" stroke="#089981" stroke-width="1"/><rect x="438.15" y="175.8" width="3.1" height="43.2" fill="#089981"/></g>
<g><line x1="444.15" y1="114.0" x2="444.15" y2="198.3" stroke="#f23645" stroke-width="1"/><rect x="442.60" y="175.8" width="3.1" height="21.1" fill="#f23645"/></g>
<g><line x1="448.60" y1="179.2" x2="448.60" y2="208.7" stroke="#f23645" stroke-width="1"/><rect x="447.05" y="196.6" width="3.1" height="12.1" fill="#f23645"/></g>
<g><line x1="453.05" y1="154.1" x2="453.05" y2="208.7" stroke="#089981" stroke-width="1"/><rect x="451.50" y="180.3" width="3.1" height="28.4" fill="#089981"/></g>
<g><line x1="457.50" y1="129.0" x2="457.50" y2="180.0" stroke="#089981" stroke-width="1"/><rect x="455.95" y="144.0" width="3.1" height="36.1" fill="#089981"/></g>
<g><line x1="461.95" y1="118.2" x2="461.95" y2="148.1" stroke="#089981" stroke-width="1"/><rect x="460.40" y="129.8" width="3.1" height="15.0" fill="#089981"/></g>
<g><line x1="466.40" y1="119.0" x2="466.40" y2="175.5" stroke="#f23645" stroke-width="1"/><rect x="464.85" y="129.8" width="3.1" height="45.7" fill="#f23645"/></g>
<g><line x1="470.85" y1="156.4" x2="470.85" y2="180.0" stroke="#089981" stroke-width="1"/><rect x="469.30" y="161.1" width="3.1" height="14.5" fill="#089981"/></g>
<g><line x1="475.30" y1="141.0" x2="475.30" y2="170.5" stroke="#089981" stroke-width="1"/><rect x="473.75" y="146.0" width="3.1" height="15.5" fill="#089981"/></g>
<g><line x1="479.75" y1="136.8" x2="479.75" y2="178.0" stroke="#f23645" stroke-width="1"/><rect x="478.20" y="146.0" width="3.1" height="23.8" fill="#f23645"/></g>
<g><line x1="484.20" y1="148.9" x2="484.20" y2="173.0" stroke="#f23645" stroke-width="1"/><rect x="482.65" y="168.9" width="3.1" height="2.2" fill="#f23645"/></g>
<g><line x1="488.64" y1="125.7" x2="488.64" y2="171.0" stroke="#089981" stroke-width="1"/><rect x="487.09" y="135.2" width="3.1" height="35.9" fill="#089981"/></g>
<g><line x1="493.09" y1="121.5" x2="493.09" y2="140.6" stroke="#089981" stroke-width="1"/><rect x="491.54" y="129.0" width="3.1" height="6.6" fill="#089981"/></g>
<g><line x1="497.54" y1="111.6" x2="497.54" y2="129.8" stroke="#089981" stroke-width="1"/><rect x="495.99" y="111.6" width="3.1" height="18.3" fill="#089981"/></g>
<g><line x1="501.99" y1="82.0" x2="501.99" y2="140.6" stroke="#089981" stroke-width="1"/><rect x="500.44" y="118.2" width="3.1" height="1.7" fill="#089981"/></g>
<g><line x1="506.44" y1="88.0" x2="506.44" y2="119.9" stroke="#089981" stroke-width="1"/><rect x="504.89" y="107.1" width="3.1" height="12.0" fill="#089981"/></g>
<g><line x1="510.89" y1="96.1" x2="510.89" y2="123.2" stroke="#089981" stroke-width="1"/><rect x="509.34" y="104.6" width="3.1" height="2.8" fill="#089981"/></g>
<g><line x1="515.34" y1="80.8" x2="515.34" y2="114.9" stroke="#089981" stroke-width="1"/><rect x="513.79" y="105.7" width="3.1" height="2.5" fill="#089981"/></g>
<g><line x1="519.79" y1="94.1" x2="519.79" y2="119.0" stroke="#f23645" stroke-width="1"/><rect x="518.24" y="106.6" width="3.1" height="12.5" fill="#f23645"/></g>
<g><line x1="524.24" y1="109.1" x2="524.24" y2="121.9" stroke="#f23645" stroke-width="1"/><rect x="522.69" y="116.5" width="3.1" height="5.3" fill="#f23645"/></g>
<g><line x1="528.69" y1="98.3" x2="528.69" y2="124.9" stroke="#f23645" stroke-width="1"/><rect x="527.14" y="121.5" width="3.1" height="3.3" fill="#f23645"/></g>
<g><line x1="533.14" y1="104.1" x2="533.14" y2="124.9" stroke="#089981" stroke-width="1"/><rect x="531.59" y="108.7" width="3.1" height="16.1" fill="#089981"/></g>
<g><line x1="537.59" y1="76.7" x2="537.59" y2="110.4" stroke="#089981" stroke-width="1"/><rect x="536.04" y="92.1" width="3.1" height="18.3" fill="#089981"/></g>
<g><line x1="542.04" y1="84.9" x2="542.04" y2="113.1" stroke="#089981" stroke-width="1"/><rect x="540.49" y="87.4" width="3.1" height="5.8" fill="#089981"/></g>
<g><line x1="546.49" y1="75.7" x2="546.49" y2="105.7" stroke="#089981" stroke-width="1"/><rect x="544.94" y="84.9" width="3.1" height="3.0" fill="#089981"/></g>
<g><line x1="550.94" y1="77.4" x2="550.94" y2="118.9" stroke="#f23645" stroke-width="1"/><rect x="549.39" y="82.9" width="3.1" height="29.9" fill="#f23645"/></g>
<g><line x1="555.39" y1="83.2" x2="555.39" y2="107.3" stroke="#089981" stroke-width="1"/><rect x="553.84" y="91.2" width="3.1" height="15.3" fill="#089981"/></g>
<g><line x1="559.84" y1="56.3" x2="559.84" y2="109.0" stroke="#f23645" stroke-width="1"/><rect x="558.29" y="61.6" width="3.1" height="35.7" fill="#f23645"/></g>
<g><line x1="564.28" y1="88.2" x2="564.28" y2="110.6" stroke="#f23645" stroke-width="1"/><rect x="562.73" y="92.4" width="3.1" height="18.3" fill="#f23645"/></g>
<g><line x1="568.73" y1="100.7" x2="568.73" y2="114.8" stroke="#089981" stroke-width="1"/><rect x="567.18" y="104.0" width="3.1" height="6.6" fill="#089981"/></g>
<g><line x1="573.18" y1="91.5" x2="573.18" y2="110.6" stroke="#089981" stroke-width="1"/><rect x="571.63" y="97.3" width="3.1" height="9.5" fill="#089981"/></g>
<g><line x1="577.63" y1="71.6" x2="577.63" y2="113.1" stroke="#f23645" stroke-width="1"/><rect x="576.08" y="97.0" width="3.1" height="16.1" fill="#f23645"/></g>
<g><line x1="582.08" y1="112.8" x2="582.08" y2="135.6" stroke="#f23645" stroke-width="1"/><rect x="580.53" y="112.8" width="3.1" height="18.9" fill="#f23645"/></g>
<g><line x1="586.53" y1="111.5" x2="586.53" y2="134.4" stroke="#089981" stroke-width="1"/><rect x="584.98" y="114.0" width="3.1" height="18.3" fill="#089981"/></g>
<g><line x1="590.98" y1="101.5" x2="590.98" y2="128.9" stroke="#089981" stroke-width="1"/><rect x="589.43" y="107.3" width="3.1" height="7.8" fill="#089981"/></g>
<g><line x1="595.43" y1="96.5" x2="595.43" y2="135.6" stroke="#089981" stroke-width="1"/><rect x="593.88" y="104.0" width="3.1" height="3.8" fill="#089981"/></g>
<g><line x1="599.88" y1="66.6" x2="599.88" y2="118.1" stroke="#f23645" stroke-width="1"/><rect x="598.33" y="97.8" width="3.1" height="12.0" fill="#f23645"/></g>
<g><line x1="604.33" y1="110.6" x2="604.33" y2="144.4" stroke="#f23645" stroke-width="1"/><rect x="602.78" y="110.6" width="3.1" height="33.7" fill="#f23645"/></g>
<g><line x1="608.78" y1="141.3" x2="608.78" y2="156.6" stroke="#f23645" stroke-width="1"/><rect x="607.23" y="144.1" width="3.1" height="12.5" fill="#f23645"/></g>
<g><line x1="613.23" y1="144.1" x2="613.23" y2="156.1" stroke="#089981" stroke-width="1"/><rect x="611.68" y="152.4" width="3.1" height="3.7" fill="#089981"/></g>
<g><line x1="617.68" y1="140.0" x2="617.68" y2="159.9" stroke="#f23645" stroke-width="1"/><rect x="616.13" y="151.9" width="3.1" height="8.0" fill="#f23645"/></g>
<g><line x1="622.13" y1="146.6" x2="622.13" y2="166.2" stroke="#f23645" stroke-width="1"/><rect x="620.58" y="155.8" width="3.1" height="2.5" fill="#f23645"/></g>
<g><line x1="626.58" y1="157.9" x2="626.58" y2="171.9" stroke="#f23645" stroke-width="1"/><rect x="625.03" y="157.9" width="3.1" height="14.0" fill="#f23645"/></g>
<g><line x1="631.03" y1="160.2" x2="631.03" y2="173.5" stroke="#089981" stroke-width="1"/><rect x="629.48" y="160.2" width="3.1" height="13.3" fill="#089981"/></g>
<g><line x1="635.47" y1="159.9" x2="635.47" y2="179.4" stroke="#f23645" stroke-width="1"/><rect x="633.92" y="159.9" width="3.1" height="19.4" fill="#f23645"/></g>
<g><line x1="639.92" y1="180.2" x2="639.92" y2="195.6" stroke="#f23645" stroke-width="1"/><rect x="638.37" y="180.2" width="3.1" height="9.6" fill="#f23645"/></g>
<g><line x1="644.37" y1="173.2" x2="644.37" y2="195.1" stroke="#089981" stroke-width="1"/><rect x="642.82" y="174.5" width="3.1" height="15.3" fill="#089981"/></g>
<g><line x1="648.82" y1="166.6" x2="648.82" y2="196.5" stroke="#f23645" stroke-width="1"/><rect x="647.27" y="173.5" width="3.1" height="22.9" fill="#f23645"/></g>
<g><line x1="653.27" y1="191.8" x2="653.27" y2="209.8" stroke="#f23645" stroke-width="1"/><rect x="651.72" y="196.1" width="3.1" height="12.0" fill="#f23645"/></g>
<g><line x1="657.72" y1="199.8" x2="657.72" y2="212.6" stroke="#089981" stroke-width="1"/><rect x="656.17" y="207.3" width="3.1" height="4.2" fill="#089981"/></g>
<g><line x1="662.17" y1="192.3" x2="662.17" y2="206.4" stroke="#089981" stroke-width="1"/><rect x="660.62" y="201.5" width="3.1" height="2.0" fill="#089981"/></g>
<g><line x1="666.62" y1="201.8" x2="666.62" y2="213.9" stroke="#f23645" stroke-width="1"/><rect x="665.07" y="201.8" width="3.1" height="10.8" fill="#f23645"/></g>
<g><line x1="671.07" y1="186.8" x2="671.07" y2="214.4" stroke="#089981" stroke-width="1"/><rect x="669.52" y="194.0" width="3.1" height="18.6" fill="#089981"/></g>
<g><line x1="675.52" y1="188.2" x2="675.52" y2="213.1" stroke="#f23645" stroke-width="1"/><rect x="673.97" y="194.0" width="3.1" height="18.3" fill="#f23645"/></g>
<g><line x1="679.97" y1="194.0" x2="679.97" y2="214.4" stroke="#089981" stroke-width="1"/><rect x="678.42" y="201.0" width="3.1" height="10.8" fill="#089981"/></g>
<g><line x1="684.42" y1="194.0" x2="684.42" y2="211.4" stroke="#f23645" stroke-width="1"/><rect x="682.87" y="203.9" width="3.1" height="7.5" fill="#f23645"/></g>
<g><line x1="688.87" y1="197.3" x2="688.87" y2="212.3" stroke="#089981" stroke-width="1"/><rect x="687.32" y="205.6" width="3.1" height="6.6" fill="#089981"/></g>
<g><line x1="693.32" y1="194.8" x2="693.32" y2="209.8" stroke="#089981" stroke-width="1"/><rect x="691.77" y="203.6" width="3.1" height="2.5" fill="#089981"/></g>
<g><line x1="697.77" y1="203.9" x2="697.77" y2="219.7" stroke="#f23645" stroke-width="1"/><rect x="696.22" y="203.9" width="3.1" height="15.8" fill="#f23645"/></g>
<g><line x1="702.22" y1="219.7" x2="702.22" y2="233.9" stroke="#f23645" stroke-width="1"/><rect x="700.67" y="219.7" width="3.1" height="2.2" fill="#f23645"/></g>
<g><line x1="706.67" y1="212.3" x2="706.67" y2="228.0" stroke="#f23645" stroke-width="1"/><rect x="705.12" y="221.4" width="3.1" height="3.0" fill="#f23645"/></g>
<g><line x1="711.11" y1="214.7" x2="711.11" y2="231.4" stroke="#089981" stroke-width="1"/><rect x="709.56" y="221.4" width="3.1" height="3.3" fill="#089981"/></g>
<g><line x1="715.56" y1="208.1" x2="715.56" y2="228.0" stroke="#089981" stroke-width="1"/><rect x="714.01" y="211.1" width="3.1" height="15.3" fill="#089981"/></g>
<g><line x1="720.01" y1="207.8" x2="720.01" y2="223.9" stroke="#f23645" stroke-width="1"/><rect x="718.46" y="217.6" width="3.1" height="6.3" fill="#f23645"/></g>
<g><line x1="724.46" y1="218.1" x2="724.46" y2="223.9" stroke="#089981" stroke-width="1"/><rect x="722.91" y="218.1" width="3.1" height="5.8" fill="#089981"/></g>
<g><line x1="728.91" y1="209.4" x2="728.91" y2="221.9" stroke="#089981" stroke-width="1"/><rect x="727.36" y="210.9" width="3.1" height="11.0" fill="#089981"/></g>
<g><line x1="733.36" y1="199.0" x2="733.36" y2="219.7" stroke="#f23645" stroke-width="1"/><rect x="731.81" y="213.9" width="3.1" height="5.8" fill="#f23645"/></g>
<g><line x1="737.81" y1="219.4" x2="737.81" y2="230.5" stroke="#f23645" stroke-width="1"/><rect x="736.26" y="219.4" width="3.1" height="8.6" fill="#f23645"/></g>
<g><line x1="742.26" y1="216.1" x2="742.26" y2="228.4" stroke="#089981" stroke-width="1"/><rect x="740.71" y="216.1" width="3.1" height="12.3" fill="#089981"/></g>
<g><line x1="746.71" y1="213.9" x2="746.71" y2="229.2" stroke="#f23645" stroke-width="1"/><rect x="745.16" y="216.4" width="3.1" height="12.8" fill="#f23645"/></g>
<g><line x1="751.16" y1="224.6" x2="751.16" y2="236.2" stroke="#f23645" stroke-width="1"/><rect x="749.61" y="228.6" width="3.1" height="7.6" fill="#f23645"/></g>
<g><line x1="755.61" y1="227.4" x2="755.61" y2="246.5" stroke="#f23645" stroke-width="1"/><rect x="754.06" y="235.7" width="3.1" height="10.8" fill="#f23645"/></g>
<g><line x1="760.06" y1="244.5" x2="760.06" y2="250.7" stroke="#089981" stroke-width="1"/><rect x="758.51" y="244.5" width="3.1" height="1.7" fill="#089981"/></g>
<g><line x1="764.51" y1="244.9" x2="764.51" y2="254.0" stroke="#f23645" stroke-width="1"/><rect x="762.96" y="244.9" width="3.1" height="9.1" fill="#f23645"/></g>
<g><line x1="768.96" y1="249.9" x2="768.96" y2="254.9" stroke="#f23645" stroke-width="1"/><rect x="767.41" y="252.4" width="3.1" height="1.2" fill="#f23645"/></g>
<g><line x1="773.41" y1="244.0" x2="773.41" y2="254.9" stroke="#089981" stroke-width="1"/><rect x="771.86" y="247.9" width="3.1" height="5.3" fill="#089981"/></g>
<g><line x1="777.86" y1="247.9" x2="777.86" y2="271.1" stroke="#f23645" stroke-width="1"/><rect x="776.31" y="249.5" width="3.1" height="21.6" fill="#f23645"/></g>
<g><line x1="782.31" y1="268.5" x2="782.31" y2="288.6" stroke="#f23645" stroke-width="1"/><rect x="780.76" y="268.5" width="3.1" height="20.1" fill="#f23645"/></g>
<g><line x1="786.75" y1="278.9" x2="786.75" y2="305.2" stroke="#089981" stroke-width="1"/><rect x="785.20" y="281.4" width="3.1" height="7.5" fill="#089981"/></g>
<g><line x1="791.20" y1="274.0" x2="791.20" y2="295.2" stroke="#f23645" stroke-width="1"/><rect x="789.65" y="281.4" width="3.1" height="13.8" fill="#f23645"/></g>
<g><line x1="795.65" y1="293.9" x2="795.65" y2="302.2" stroke="#f23645" stroke-width="1"/><rect x="794.10" y="293.9" width="3.1" height="8.3" fill="#f23645"/></g>
<g><line x1="800.10" y1="292.2" x2="800.10" y2="304.7" stroke="#f23645" stroke-width="1"/><rect x="798.55" y="301.0" width="3.1" height="3.7" fill="#f23645"/></g>
<g><line x1="804.55" y1="292.2" x2="804.55" y2="304.7" stroke="#089981" stroke-width="1"/><rect x="803.00" y="297.7" width="3.1" height="7.0" fill="#089981"/></g>
<g><line x1="809.00" y1="252.4" x2="809.00" y2="297.2" stroke="#089981" stroke-width="1"/><rect x="807.45" y="261.2" width="3.1" height="29.4" fill="#089981"/></g>
<g><line x1="813.45" y1="245.4" x2="813.45" y2="282.3" stroke="#089981" stroke-width="1"/><rect x="811.90" y="251.2" width="3.1" height="5.0" fill="#089981"/></g>
<g opacity="0.45"><line x1="817.90" y1="246.2" x2="817.90" y2="272.3" stroke="#f23645" stroke-width="1"/><rect x="816.35" y="251.2" width="3.1" height="2.0" fill="#f23645"/></g>
<g><line x1="822.35" y1="236.9" x2="822.35" y2="266.1" stroke="#089981" stroke-width="1"/><rect x="820.80" y="239.9" width="3.1" height="9.1" fill="#089981"/></g>
<g><line x1="826.80" y1="236.2" x2="826.80" y2="259.8" stroke="#f23645" stroke-width="1"/><rect x="825.25" y="239.9" width="3.1" height="16.6" fill="#f23645"/></g>
<line x1="598.90" y1="67.00" x2="598.90" y2="74.00" stroke="#f7a944" stroke-width="1.6" />
<line x1="598.30" y1="84.00" x2="598.30" y2="92.00" stroke="#f7a944" stroke-width="1.6" />
<line x1="598.30" y1="100.00" x2="598.30" y2="108.00" stroke="#f7a944" stroke-width="1.6" />
<line x1="597.80" y1="118.00" x2="597.80" y2="124.00" stroke="#f7a944" stroke-width="1.6" />
<polyline points="728.1,204.0 733.1,199.0" fill="none" stroke="#f7a944" stroke-width="1.3" stroke-linejoin="round" stroke-linecap="round" />
<polyline points="733.1,199.0 735.6,203.0" fill="none" stroke="#9a9a9a" stroke-width="1.3" stroke-linejoin="round" stroke-linecap="round" />
<polyline points="719.8,213.9 723.1,210.6" fill="none" stroke="#f7a944" stroke-width="1.2" stroke-linejoin="round" stroke-linecap="round" />
<polyline points="803.5,297.0 805.0,292.5" fill="none" stroke="#f2c94c" stroke-width="1.2" stroke-linejoin="round" stroke-linecap="round" />
<line x1="78.00" y1="231.30" x2="202.80" y2="336.70" stroke="#e14c80" stroke-width="2.0" stroke-linecap="round"/>
<line x1="202.80" y1="336.70" x2="248.40" y2="216.40" stroke="#88c55e" stroke-width="1.7" stroke-linecap="round"/>
<line x1="248.40" y1="216.40" x2="368.40" y2="361.80" stroke="#e14c80" stroke-width="2.0" stroke-linecap="round"/>
<line x1="368.40" y1="361.80" x2="559.80" y2="56.20" stroke="#88c55e" stroke-width="1.7" stroke-linecap="round"/>
<line x1="559.80" y1="56.20" x2="799.60" y2="305.20" stroke="#e14c80" stroke-width="2.0" stroke-linecap="round"/>
<polyline points="78.4,511.0 95.6,517.9 113.3,523.8" fill="none" stroke="#9ccc9c" stroke-width="1.2" stroke-opacity="0.45" stroke-linejoin="round" stroke-linecap="round" />
<polyline points="225.2,517.9 233.0,476.7 246.8,466.9 256.6,447.3 261.5,443.3 270.3,472.8 276.0,492.4 270.0,474.7 275.9,496.3 279.8,517.9" fill="none" stroke="#9ccc9c" stroke-width="1.2" stroke-opacity="0.45" stroke-linejoin="round" stroke-linecap="round" />
<polyline points="311.2,532.0 317.1,517.9 325.0,502.2 336.7,486.5 342.6,492.4 352.4,508.1 362.2,517.9 374.0,510.1 379.9,502.2 385.8,494.4 395.6,506.1 403.5,476.7 411.3,459.0 419.2,443.3 427.0,447.3 438.8,445.3 446.6,459.0 458.4,447.3 470.0,445.3 475.8,450.2 485.6,457.1 499.3,447.3 511.1,443.3 522.9,455.1 532.7,468.8 542.5,455.1 548.4,453.1 556.2,459.0 562.1,472.8 568.0,486.5 577.8,500.2 585.7,517.9 593.5,506.1 599.4,502.2 605.3,517.9" fill="none" stroke="#9ccc9c" stroke-width="1.2" stroke-opacity="0.45" stroke-linejoin="round" stroke-linecap="round" />
<polyline points="747.7,509.5 753.5,519.3" fill="none" stroke="#9ccc9c" stroke-width="1.2" stroke-opacity="0.45" stroke-linejoin="round" stroke-linecap="round" />
<polyline points="805.1,532.0 812.9,482.6 818.8,453.1 822.7,441.4" fill="none" stroke="#9ccc9c" stroke-width="1.2" stroke-opacity="0.45" stroke-linejoin="round" stroke-linecap="round" />
<polyline points="225.2,517.9 242.8,486.5 256.6,466.9 264.4,470.8 276.0,486.5 270.0,447.3 279.8,476.7 293.6,502.2 305.3,521.8" fill="none" stroke="#ffab91" stroke-width="1.2" stroke-opacity="0.45" stroke-linejoin="round" stroke-linecap="round" />
<polyline points="323.0,532.0 334.8,506.1 348.5,502.2 362.2,514.0 376.0,510.1 387.8,506.1 399.5,502.2 407.4,486.5 419.2,472.8 430.9,457.1 446.6,453.1 458.4,451.2 470.0,443.3" fill="none" stroke="#ffab91" stroke-width="1.2" stroke-opacity="0.45" stroke-linejoin="round" stroke-linecap="round" />
<polyline points="558.2,459.0 570.0,474.7 581.8,502.2 589.6,505.2 599.4,504.2 604.3,514.0" fill="none" stroke="#ffab91" stroke-width="1.2" stroke-opacity="0.45" stroke-linejoin="round" stroke-linecap="round" />
<polyline points="743.8,501.7 751.6,513.4 759.4,523.2 767.2,529.1" fill="none" stroke="#ffab91" stroke-width="1.2" stroke-opacity="0.45" stroke-linejoin="round" stroke-linecap="round" />
<polyline points="814.9,517.9 820.8,500.2 826.6,482.6" fill="none" stroke="#ffab91" stroke-width="1.2" stroke-opacity="0.45" stroke-linejoin="round" stroke-linecap="round" />
<polyline points="231.1,523.8 242.8,514.0 252.6,502.2 260.5,494.4 276.0,492.4 289.6,492.8 309.3,499.3 328.9,498.3 336.7,491.4 348.5,498.3 362.2,504.2 376.0,505.2 383.8,494.4 391.7,502.2 403.5,504.2 411.3,500.2 423.1,494.4 436.8,488.5 446.6,478.7 458.4,468.8 470.0,461.0" fill="none" stroke="#aab4e8" stroke-width="1.2" stroke-opacity="0.5" stroke-linejoin="round" stroke-linecap="round" />
<polyline points="564.1,437.8 573.9,450.2 585.7,464.9 599.4,475.7 607.3,485.5 615.1,500.2 624.9,514.0" fill="none" stroke="#aab4e8" stroke-width="1.2" stroke-opacity="0.5" stroke-linejoin="round" stroke-linecap="round" />
<polyline points="814.9,517.9 820.8,508.1 825.7,503.2" fill="none" stroke="#aab4e8" stroke-width="1.2" stroke-opacity="0.5" stroke-linejoin="round" stroke-linecap="round" />
<line x1="78.00" y1="483.00" x2="827.00" y2="483.00" stroke="#d63aa6" stroke-width="1.5" />
<line x1="78.00" y1="483.00" x2="827.00" y2="483.00" stroke="#f06292" stroke-width="1.0" stroke-dasharray="2 2"/>
<line x1="827.00" y1="483.00" x2="895.50" y2="483.00" stroke="#d0507e" stroke-width="0.8" />
<rect x="92.75" y="545.2" width="4.18" height="9.4" rx="1.3" fill="#7878ff" fill-opacity="0.34"/>
<rect x="97.23" y="545.2" width="4.18" height="9.4" rx="1.3" fill="#7878ff" fill-opacity="0.34"/>
<rect x="101.71" y="545.2" width="4.18" height="9.4" rx="1.3" fill="#7878ff" fill-opacity="0.34"/>
<rect x="106.19" y="545.2" width="4.18" height="9.4" rx="1.3" fill="#7878ff" fill-opacity="0.34"/>
<rect x="110.67" y="545.2" width="4.18" height="9.4" rx="1.3" fill="#7878ff" fill-opacity="0.34"/>
<rect x="137.65" y="545.2" width="4.09" height="9.4" rx="1.3" fill="#7878ff" fill-opacity="0.34"/>
<rect x="142.04" y="545.2" width="4.09" height="9.4" rx="1.3" fill="#7878ff" fill-opacity="0.34"/>
<rect x="146.44" y="545.2" width="4.09" height="9.4" rx="1.3" fill="#7878ff" fill-opacity="0.34"/>
<rect x="150.83" y="545.2" width="4.09" height="9.4" rx="1.3" fill="#7878ff" fill-opacity="0.34"/>
<rect x="155.22" y="545.2" width="4.09" height="9.4" rx="1.3" fill="#7878ff" fill-opacity="0.34"/>
<rect x="159.62" y="545.2" width="4.09" height="9.4" rx="1.3" fill="#7878ff" fill-opacity="0.34"/>
<rect x="164.01" y="545.2" width="4.09" height="9.4" rx="1.3" fill="#7878ff" fill-opacity="0.34"/>
<rect x="168.41" y="545.2" width="4.09" height="9.4" rx="1.3" fill="#7878ff" fill-opacity="0.34"/>
<rect x="172.80" y="545.2" width="4.09" height="9.4" rx="1.3" fill="#7878ff" fill-opacity="0.34"/>
<rect x="177.19" y="545.2" width="4.09" height="9.4" rx="1.3" fill="#7878ff" fill-opacity="0.34"/>
<rect x="181.59" y="545.2" width="4.09" height="9.4" rx="1.3" fill="#7878ff" fill-opacity="0.34"/>
<rect x="185.98" y="545.2" width="4.09" height="9.4" rx="1.3" fill="#7878ff" fill-opacity="0.34"/>
<rect x="190.38" y="545.2" width="4.09" height="9.4" rx="1.3" fill="#7878ff" fill-opacity="0.34"/>
<rect x="194.77" y="545.2" width="4.09" height="9.4" rx="1.3" fill="#7878ff" fill-opacity="0.34"/>
<rect x="199.16" y="545.2" width="4.09" height="9.4" rx="1.3" fill="#7878ff" fill-opacity="0.34"/>
<rect x="203.56" y="545.2" width="4.09" height="9.4" rx="1.3" fill="#7878ff" fill-opacity="0.34"/>
<rect x="301.65" y="545.2" width="4.13" height="9.4" rx="1.3" fill="#7878ff" fill-opacity="0.34"/>
<rect x="306.08" y="545.2" width="4.13" height="9.4" rx="1.3" fill="#7878ff" fill-opacity="0.34"/>
<rect x="310.52" y="545.2" width="4.13" height="9.4" rx="1.3" fill="#7878ff" fill-opacity="0.34"/>
<rect x="609.05" y="545.2" width="4.09" height="9.4" rx="1.3" fill="#7878ff" fill-opacity="0.34"/>
<rect x="613.44" y="545.2" width="4.09" height="9.4" rx="1.3" fill="#7878ff" fill-opacity="0.34"/>
<rect x="617.84" y="545.2" width="4.09" height="9.4" rx="1.3" fill="#7878ff" fill-opacity="0.34"/>
<rect x="622.23" y="545.2" width="4.09" height="9.4" rx="1.3" fill="#7878ff" fill-opacity="0.34"/>
<rect x="626.63" y="545.2" width="4.09" height="9.4" rx="1.3" fill="#7878ff" fill-opacity="0.34"/>
<rect x="631.02" y="545.2" width="4.09" height="9.4" rx="1.3" fill="#7878ff" fill-opacity="0.34"/>
<rect x="635.42" y="545.2" width="4.09" height="9.4" rx="1.3" fill="#7878ff" fill-opacity="0.34"/>
<rect x="639.81" y="545.2" width="4.09" height="9.4" rx="1.3" fill="#7878ff" fill-opacity="0.34"/>
<rect x="644.21" y="545.2" width="4.09" height="9.4" rx="1.3" fill="#7878ff" fill-opacity="0.34"/>
<rect x="648.60" y="545.2" width="4.09" height="9.4" rx="1.3" fill="#7878ff" fill-opacity="0.34"/>
<rect x="652.99" y="545.2" width="4.09" height="9.4" rx="1.3" fill="#7878ff" fill-opacity="0.34"/>
<rect x="657.39" y="545.2" width="4.09" height="9.4" rx="1.3" fill="#7878ff" fill-opacity="0.34"/>
<rect x="661.78" y="545.2" width="4.09" height="9.4" rx="1.3" fill="#7878ff" fill-opacity="0.34"/>
<rect x="666.18" y="545.2" width="4.09" height="9.4" rx="1.3" fill="#7878ff" fill-opacity="0.34"/>
<rect x="670.57" y="545.2" width="4.09" height="9.4" rx="1.3" fill="#7878ff" fill-opacity="0.34"/>
<rect x="674.97" y="545.2" width="4.09" height="9.4" rx="1.3" fill="#7878ff" fill-opacity="0.34"/>
<rect x="679.36" y="545.2" width="4.09" height="9.4" rx="1.3" fill="#7878ff" fill-opacity="0.34"/>
<rect x="683.76" y="545.2" width="4.09" height="9.4" rx="1.3" fill="#7878ff" fill-opacity="0.34"/>
<rect x="760.55" y="545.2" width="4.14" height="9.4" rx="1.3" fill="#7878ff" fill-opacity="0.34"/>
<rect x="764.99" y="545.2" width="4.14" height="9.4" rx="1.3" fill="#7878ff" fill-opacity="0.34"/>
<rect x="769.42" y="545.2" width="4.14" height="9.4" rx="1.3" fill="#7878ff" fill-opacity="0.34"/>
<rect x="773.86" y="545.2" width="4.14" height="9.4" rx="1.3" fill="#7878ff" fill-opacity="0.34"/>
<rect x="778.30" y="545.2" width="4.14" height="9.4" rx="1.3" fill="#7878ff" fill-opacity="0.34"/>
<rect x="782.73" y="545.2" width="4.14" height="9.4" rx="1.3" fill="#7878ff" fill-opacity="0.34"/>
<rect x="787.17" y="545.2" width="4.14" height="9.4" rx="1.3" fill="#7878ff" fill-opacity="0.34"/>
<rect x="791.60" y="545.2" width="4.14" height="9.4" rx="1.3" fill="#7878ff" fill-opacity="0.34"/>
<rect x="796.04" y="545.2" width="4.14" height="9.4" rx="1.3" fill="#7878ff" fill-opacity="0.34"/>
<rect x="800.48" y="545.2" width="4.14" height="9.4" rx="1.3" fill="#7878ff" fill-opacity="0.34"/>
<rect x="804.91" y="545.2" width="4.14" height="9.4" rx="1.3" fill="#7878ff" fill-opacity="0.34"/>
<path d="M82.2 541.7L87.8 536.1L93.4 541.7L87.8 547.3Z" fill="#1fe61f"/>
<path d="M86.6 541.7L92.2 536.1L97.8 541.7L92.2 547.3Z" fill="#1fe61f"/>
<path d="M91.1 541.7L96.7 536.1L102.3 541.7L96.7 547.3Z" fill="#1fe61f"/>
<path d="M95.5 541.7L101.1 536.1L106.7 541.7L101.1 547.3Z" fill="#1fe61f"/>
<path d="M100.0 541.7L105.6 536.1L111.2 541.7L105.6 547.3Z" fill="#1fe61f"/>
<path d="M104.4 541.7L110.0 536.1L115.6 541.7L110.0 547.3Z" fill="#1fe61f"/>
<path d="M241.4 541.7L247.0 536.1L252.6 541.7L247.0 547.3Z" fill="#1fe61f"/>
<path d="M245.9 541.7L251.5 536.1L257.1 541.7L251.5 547.3Z" fill="#1fe61f"/>
<path d="M250.4 541.7L256.0 536.1L261.6 541.7L256.0 547.3Z" fill="#1fe61f"/>
<path d="M254.9 541.7L260.5 536.1L266.1 541.7L260.5 547.3Z" fill="#1fe61f"/>
<path d="M398.2 541.7L403.8 536.1L409.4 541.7L403.8 547.3Z" fill="#1fe61f"/>
<path d="M402.6 541.7L408.2 536.1L413.8 541.7L408.2 547.3Z" fill="#1fe61f"/>
<path d="M406.9 541.7L412.5 536.1L418.1 541.7L412.5 547.3Z" fill="#1fe61f"/>
<path d="M411.3 541.7L416.9 536.1L422.5 541.7L416.9 547.3Z" fill="#1fe61f"/>
<path d="M433.4 541.7L439.0 536.1L444.6 541.7L439.0 547.3Z" fill="#1fe61f"/>
<path d="M611.9 541.7L617.5 536.1L623.1 541.7L617.5 547.3Z" fill="#1fe61f"/>
<path d="M616.4 541.7L622.0 536.1L627.6 541.7L622.0 547.3Z" fill="#1fe61f"/>
<path d="M620.9 541.7L626.5 536.1L632.1 541.7L626.5 547.3Z" fill="#1fe61f"/>
<path d="M625.4 541.7L631.0 536.1L636.6 541.7L631.0 547.3Z" fill="#1fe61f"/>
<path d="M629.9 541.7L635.5 536.1L641.1 541.7L635.5 547.3Z" fill="#1fe61f"/>
<path d="M762.9 541.7L768.5 536.1L774.1 541.7L768.5 547.3Z" fill="#1fe61f"/>
<path d="M767.4 541.7L773.0 536.1L778.6 541.7L773.0 547.3Z" fill="#1fe61f"/>
<path d="M208.6 541.7L214.2 536.1L219.8 541.7L214.2 547.3Z" fill="#ff9a14"/>
<path d="M213.0 541.7L218.6 536.1L224.2 541.7L218.6 547.3Z" fill="#ff9a14"/>
<path d="M217.5 541.7L223.1 536.1L228.7 541.7L223.1 547.3Z" fill="#ff9a14"/>
<path d="M220.0 541.7L225.6 536.1L231.2 541.7L225.6 547.3Z" fill="#ff9a14"/>
<path d="M310.6 541.7L316.2 536.1L321.8 541.7L316.2 547.3Z" fill="#ff9a14"/>
<path d="M315.0 541.7L320.6 536.1L326.2 541.7L320.6 547.3Z" fill="#ff9a14"/>
<path d="M319.4 541.7L325.0 536.1L330.6 541.7L325.0 547.3Z" fill="#ff9a14"/>
<path d="M320.9 541.7L326.5 536.1L332.1 541.7L326.5 547.3Z" fill="#ff9a14"/>
<path d="M332.1 541.7L337.7 536.1L343.3 541.7L337.7 547.3Z" fill="#ff9a14"/>
<path d="M335.4 541.7L341.0 536.1L346.6 541.7L341.0 547.3Z" fill="#ff9a14"/>
<path d="M482.4 541.7L488.0 536.1L493.6 541.7L488.0 547.3Z" fill="#ff9a14"/>
<path d="M495.5 541.7L501.1 536.1L506.7 541.7L501.1 547.3Z" fill="#ff9a14"/>
<path d="M518.4 541.7L524.0 536.1L529.6 541.7L524.0 547.3Z" fill="#ff9a14"/>
<path d="M522.8 541.7L528.4 536.1L534.0 541.7L528.4 547.3Z" fill="#ff9a14"/>
<path d="M527.2 541.7L532.8 536.1L538.4 541.7L532.8 547.3Z" fill="#ff9a14"/>
<path d="M531.6 541.7L537.2 536.1L542.8 541.7L537.2 547.3Z" fill="#ff9a14"/>
<path d="M593.6 541.7L599.2 536.1L604.8 541.7L599.2 547.3Z" fill="#ff9a14"/>
<path d="M682.9 541.7L688.5 536.1L694.1 541.7L688.5 547.3Z" fill="#ff9a14"/>
<path d="M686.9 541.7L692.5 536.1L698.1 541.7L692.5 547.3Z" fill="#ff9a14"/>
<path d="M690.9 541.7L696.5 536.1L702.1 541.7L696.5 547.3Z" fill="#ff9a14"/>
<path d="M726.8 541.7L732.4 536.1L738.0 541.7L732.4 547.3Z" fill="#ff9a14"/>
<path d="M737.2 541.7L742.8 536.1L748.4 541.7L742.8 547.3Z" fill="#ff9a14"/>
<path d="M741.6 541.7L747.2 536.1L752.8 541.7L747.2 547.3Z" fill="#ff9a14"/>
<path d="M152.1 546.0L156.5 534.6L160.9 546.0Z" fill="#3535e8" fill-opacity="0.66"/>
<path d="M156.6 546.0L161.0 534.6L165.4 546.0Z" fill="#3535e8" fill-opacity="0.66"/>
<path d="M175.6 546.0L180.0 534.6L184.4 546.0Z" fill="#3535e8" fill-opacity="0.66"/>
<path d="M180.1 546.0L184.5 534.6L188.9 546.0Z" fill="#3535e8" fill-opacity="0.66"/>
<path d="M184.6 546.0L189.0 534.6L193.4 546.0Z" fill="#3535e8" fill-opacity="0.66"/>
<path d="M189.1 546.0L193.5 534.6L197.9 546.0Z" fill="#3535e8" fill-opacity="0.66"/>
<path d="M193.6 546.0L198.0 534.6L202.4 546.0Z" fill="#3535e8" fill-opacity="0.66"/>
<path d="M198.1 546.0L202.5 534.6L206.9 546.0Z" fill="#3535e8" fill-opacity="0.66"/>
<path d="M635.6 546.0L640.0 534.6L644.4 546.0Z" fill="#3535e8" fill-opacity="0.66"/>
<path d="M640.1 546.0L644.5 534.6L648.9 546.0Z" fill="#3535e8" fill-opacity="0.66"/>
<path d="M652.1 546.0L656.5 534.6L660.9 546.0Z" fill="#3535e8" fill-opacity="0.66"/>
<path d="M653.4 546.0L657.8 534.6L662.2 546.0Z" fill="#3535e8" fill-opacity="0.66"/>
<path d="M777.6 546.0L782.0 534.6L786.4 546.0Z" fill="#3535e8" fill-opacity="0.66"/>
<path d="M782.1 546.0L786.5 534.6L790.9 546.0Z" fill="#3535e8" fill-opacity="0.66"/>
<path d="M786.6 546.0L791.0 534.6L795.4 546.0Z" fill="#3535e8" fill-opacity="0.66"/>
<path d="M791.1 546.0L795.5 534.6L799.9 546.0Z" fill="#3535e8" fill-opacity="0.66"/>
<path d="M795.6 546.0L800.0 534.6L804.4 546.0Z" fill="#3535e8" fill-opacity="0.66"/>
<path d="M800.1 546.0L804.5 534.6L808.9 546.0Z" fill="#3535e8" fill-opacity="0.66"/>
<line x1="154.00" y1="545.70" x2="164.00" y2="545.70" stroke="#3030e8" stroke-width="1.4" />
<line x1="177.60" y1="545.70" x2="206.00" y2="545.70" stroke="#3030e8" stroke-width="1.4" />
<line x1="637.00" y1="545.70" x2="648.00" y2="545.70" stroke="#3030e8" stroke-width="1.4" />
<line x1="653.50" y1="545.70" x2="661.50" y2="545.70" stroke="#3030e8" stroke-width="1.4" />
<line x1="777.00" y1="545.70" x2="809.00" y2="545.70" stroke="#3030e8" stroke-width="1.4" />
<polyline points="92.6,519.3 103.3,526.1 111.2,530.0 115.1,526.1" fill="none" stroke="#ff9a1f" stroke-width="1.3" stroke-linejoin="round" stroke-linecap="round" />
<polyline points="120.9,520.3 126.8,523.2 134.6,528.1 144.4,533.9 154.1,541.2 161.9,538.8 167.8,536.9 177.6,542.7 193.2,543.7 203.0,548.6 208.8,540.8 216.6,532.0 221.5,531.0 225.4,525.2" fill="none" stroke="#ff9a1f" stroke-width="1.3" stroke-linejoin="round" stroke-linecap="round" />
<polyline points="491.5,446.3 498.3,440.4 507.2,435.5 515.0,434.5 519.9,437.0 523.9,439.8" fill="none" stroke="#ff9a1f" stroke-width="1.3" stroke-linejoin="round" stroke-linecap="round" />
<polyline points="538.6,440.4 545.5,437.4" fill="none" stroke="#ff9a1f" stroke-width="1.3" stroke-linejoin="round" stroke-linecap="round" />
<polyline points="550.4,442.9 554.7,441.4" fill="none" stroke="#ff9a1f" stroke-width="1.3" stroke-linejoin="round" stroke-linecap="round" />
<polyline points="624.2,521.2 632.0,526.1 643.7,530.0 651.5,535.9 661.3,538.4 659.8,540.8 669.5,541.2 679.3,538.8 689.1,541.2 698.8,538.8 708.6,537.9 716.4,532.0 724.2,526.7 728.1,524.8" fill="none" stroke="#ff9a1f" stroke-width="1.3" stroke-linejoin="round" stroke-linecap="round" />
<polyline points="751.6,522.2 759.4,530.0 771.1,532.0 778.9,536.9" fill="none" stroke="#ff9a1f" stroke-width="1.3" stroke-linejoin="round" stroke-linecap="round" />
<polyline points="806.2,534.9 812.1,529.1" fill="none" stroke="#ff9a1f" stroke-width="1.3" stroke-linejoin="round" stroke-linecap="round" />
<polyline points="92.6,521.2 101.4,529.1 111.2,536.9 115.1,525.2" fill="none" stroke="#f4483c" stroke-width="1.3" stroke-linejoin="round" stroke-linecap="round" />
<polyline points="122.9,521.2 134.6,529.1 142.4,534.9 154.1,538.8 160.0,535.9 167.8,535.9 173.7,539.8 179.5,544.7 193.2,546.6 203.0,552.5 208.8,542.7 212.7,533.0 216.6,525.2 221.5,525.2" fill="none" stroke="#f4483c" stroke-width="1.3" stroke-linejoin="round" stroke-linecap="round" />
<polyline points="301.2,519.7 306.1,528.1 312.0,537.9 316.9,539.8 322.7,532.0 328.6,531.0 332.5,529.1 336.8,524.2" fill="none" stroke="#f4483c" stroke-width="1.3" stroke-linejoin="round" stroke-linecap="round" />
<polyline points="434.9,444.3 438.8,436.5 442.7,436.5 447.6,441.4" fill="none" stroke="#f4483c" stroke-width="1.3" stroke-linejoin="round" stroke-linecap="round" />
<polyline points="454.5,442.3 461.4,437.4 470.0,437.4 469.9,437.0 474.2,436.5" fill="none" stroke="#f4483c" stroke-width="1.3" stroke-linejoin="round" stroke-linecap="round" />
<polyline points="506.2,443.3 511.1,441.0 515.4,441.8" fill="none" stroke="#f4483c" stroke-width="1.3" stroke-linejoin="round" stroke-linecap="round" />
<polyline points="608.5,519.3 618.3,531.0 626.1,541.8 639.8,543.7 659.3,542.7 661.7,542.7 669.5,539.8 679.3,535.9 688.1,529.1" fill="none" stroke="#f4483c" stroke-width="1.3" stroke-linejoin="round" stroke-linecap="round" />
<polyline points="758.4,519.7 767.2,529.1 775.0,533.9 782.8,541.8 790.6,545.7 798.4,552.5 804.3,554.5 809.2,536.9 813.1,523.2" fill="none" stroke="#f4483c" stroke-width="1.3" stroke-linejoin="round" stroke-linecap="round" />
<polyline points="105.3,521.2 110.2,524.8 115.1,525.2" fill="none" stroke="#a23fd6" stroke-width="1.5" stroke-linejoin="round" stroke-linecap="round" />
<polyline points="122.9,523.2 134.6,530.0 144.4,537.9 154.1,544.7 173.7,545.7 193.2,545.7 208.8,542.7 216.6,536.9 221.5,537.9 227.4,529.1 234.2,524.8" fill="none" stroke="#a23fd6" stroke-width="1.5" stroke-linejoin="round" stroke-linecap="round" />
<polyline points="487.6,445.3 492.5,439.4 499.3,436.5 507.2,432.5 515.0,431.2 520.9,431.9 526.8,435.1 532.7,436.5 538.6,433.9 544.5,430.6 550.4,433.1 555.3,432.5 560.2,434.5 564.1,437.8" fill="none" stroke="#a23fd6" stroke-width="1.5" stroke-linejoin="round" stroke-linecap="round" />
<polyline points="639.8,522.2 647.6,529.1 655.4,536.9 661.7,541.2 669.5,544.7 679.3,545.7 689.1,547.0 698.8,548.6 706.6,550.5 714.5,546.6 724.2,539.8 734.0,534.9 741.8,532.0 751.6,533.4 761.3,532.0 775.0,531.0 786.7,532.0 798.4,533.0 806.2,535.9" fill="none" stroke="#a23fd6" stroke-width="1.5" stroke-linejoin="round" stroke-linecap="round" />
<polyline points="78.3,545.7 83.4,522.2 87.7,532.0 91.6,511.9 95.5,536.9 101.4,546.6 110.2,552.5 113.1,515.4 118.8,467.9 122.1,494.4 123.9,513.4 127.2,536.9 131.7,531.0 136.5,539.8 142.4,536.9 148.3,542.7 154.1,542.7 159.0,526.1 162.9,534.9 167.8,539.8 173.7,548.6 177.6,548.6 182.4,540.8 187.3,544.7 193.2,546.6 199.0,531.0 203.0,538.8 206.5,509.5 210.8,508.6 216.2,492.9 220.9,529.1 225.2,485.5 230.1,446.3 234.0,499.3 238.9,486.5 247.7,446.3 252.6,450.2 257.6,443.3 261.5,452.2 265.4,493.4 270.3,492.0 273.9,524.2 279.8,533.9 287.2,517.3 292.5,529.1 296.4,536.9 301.2,533.9 306.1,541.8 310.0,540.8 313.0,519.3 318.1,488.9 323.0,492.4 327.9,499.3 336.7,485.5 340.7,500.2 345.2,537.9 352.0,533.9 355.9,523.2 362.8,544.7 366.7,509.5 370.1,500.2 373.0,492.4 377.0,488.1 381.9,506.1 389.7,524.2 395.6,517.9 399.5,482.6 403.5,420.2 408.4,439.4 412.7,459.4 417.2,449.2 422.1,463.0 425.4,486.5 432.9,447.3 439.2,418.8 442.7,453.1 448.0,484.2 454.5,437.4 460.8,424.7 466.3,462.0 467.9,457.1 474.8,444.3 478.7,474.7 482.6,482.2 487.6,439.4 496.4,419.4 500.3,455.1 503.3,450.2 509.1,441.4 515.0,440.4 519.0,458.0 528.8,470.4 532.7,466.9 538.6,443.3 544.5,434.5 547.4,441.4 550.8,495.9 554.7,450.8 558.2,474.7 563.1,503.2 571.9,483.6 577.8,517.9 581.8,524.2 589.6,494.4 594.5,485.5 598.4,490.4 603.6,529.1 608.5,534.9 612.4,528.1 618.3,536.9 622.2,528.1 626.1,536.9 631.0,524.2 635.9,538.8 642.7,514.4 645.6,527.1 651.5,538.8 657.4,539.8 661.3,528.1 661.7,527.1 666.6,540.8 670.9,502.7 675.4,534.9 679.7,512.5 684.2,532.0 692.6,498.8 697.9,540.8 701.8,517.3 706.6,523.2 714.8,490.0 719.1,515.9 728.5,483.2 736.4,523.8 741.7,488.9 745.7,527.1 753.5,542.7 759.4,536.9 767.2,538.8 775.0,534.9 782.8,529.1 786.1,525.2 788.7,532.0 796.5,533.9 803.3,532.0 808.6,464.9 812.9,448.2 817.2,447.3 821.7,437.4 826.6,465.9" fill="none" stroke="#a63fb4" stroke-width="0.9" stroke-linejoin="round" stroke-linecap="round" />
<polyline points="82.8,519.3 87.7,529.1 95.5,540.8 101.4,546.6 105.3,545.7 110.2,550.5 114.1,534.9" fill="none" stroke="#3d9f4c" stroke-width="1.9" stroke-linejoin="round" stroke-linecap="round" />
<polyline points="136.5,519.3 142.4,529.1 148.3,542.7 154.1,556.4 160.0,550.5 162.9,540.8" fill="none" stroke="#3d9f4c" stroke-width="1.9" stroke-linejoin="round" stroke-linecap="round" />
<polyline points="204.9,538.8 207.8,531.0" fill="none" stroke="#3d9f4c" stroke-width="1.9" stroke-linejoin="round" stroke-linecap="round" />
<polyline points="256.6,442.9 260.9,437.8" fill="none" stroke="#3d9f4c" stroke-width="1.9" stroke-linejoin="round" stroke-linecap="round" />
<polyline points="278.8,511.5 283.7,531.0 289.5,542.7 297.0,550.5 304.2,546.6 310.0,541.8 314.5,528.1" fill="none" stroke="#3d9f4c" stroke-width="1.9" stroke-linejoin="round" stroke-linecap="round" />
<polyline points="350.5,515.0 356.9,533.0 363.4,547.6 368.6,534.9 372.5,525.2" fill="none" stroke="#3d9f4c" stroke-width="1.9" stroke-linejoin="round" stroke-linecap="round" />
<polyline points="416.2,444.3 421.5,438.4" fill="none" stroke="#3d9f4c" stroke-width="1.9" stroke-linejoin="round" stroke-linecap="round" />
<polyline points="456.5,453.5 461.4,440.4" fill="none" stroke="#3d9f4c" stroke-width="1.9" stroke-linejoin="round" stroke-linecap="round" />
<polyline points="501.3,445.3 505.2,439.4 511.1,436.5 516.0,437.0 519.3,439.8" fill="none" stroke="#3d9f4c" stroke-width="1.9" stroke-linejoin="round" stroke-linecap="round" />
<polyline points="607.6,517.3 616.3,529.1 624.2,538.8 630.0,542.7" fill="none" stroke="#3d9f4c" stroke-width="1.9" stroke-linejoin="round" stroke-linecap="round" />
<polyline points="658.8,535.9 665.6,534.9 669.5,526.1 674.4,525.2 676.4,527.1" fill="none" stroke="#3d9f4c" stroke-width="1.9" stroke-linejoin="round" stroke-linecap="round" />
<polyline points="679.3,520.3 684.2,524.2" fill="none" stroke="#3d9f4c" stroke-width="1.9" stroke-linejoin="round" stroke-linecap="round" />
<polyline points="750.6,522.2 755.5,534.9 762.3,537.9 767.2,550.5 772.1,545.7 779.9,552.5 784.8,546.6 790.6,548.6 798.4,546.6 804.3,548.6" fill="none" stroke="#3d9f4c" stroke-width="1.9" stroke-linejoin="round" stroke-linecap="round" />
<polyline points="822.3,442.3 826.6,438.8" fill="none" stroke="#3d9f4c" stroke-width="1.9" stroke-linejoin="round" stroke-linecap="round" />
<polyline points="78.4,500.2 85.8,507.1 92.7,512.0 97.6,511.0 105.4,515.6 112.3,519.5 115.3,516.9 123.1,503.2 128.0,501.8 134.9,504.6 144.7,512.0 158.4,523.8 164.3,516.9 169.2,516.5 176.1,520.9 184.9,527.7 191.8,524.8 197.7,526.7 203.6,530.7 209.5,518.9 215.4,509.1 221.2,506.1 226.1,504.6 233.0,497.3 242.8,490.4 252.6,478.7 261.5,466.9 267.4,468.5 270.0,470.4 277.9,476.7 285.7,482.6 293.6,487.5 303.4,495.3 311.2,500.2 317.1,500.6 328.9,499.3 338.7,500.2 348.5,507.1 356.4,511.0 368.1,519.3 374.0,500.2 379.9,489.5 385.8,486.1 391.7,486.5 398.6,487.5 407.4,479.6 415.2,472.8 422.1,470.4 430.0,471.8 436.8,470.4 444.7,464.9 452.5,464.5 458.4,461.0 464.3,457.5 470.0,459.4 473.8,461.0 483.6,463.0 489.5,462.0 497.4,456.1 505.2,450.2 511.1,448.2 515.4,446.3 520.9,450.2 526.8,456.1 532.7,460.0 538.6,459.4 546.4,456.1 554.3,456.1 559.2,454.7 564.1,458.0 571.9,465.9 576.9,468.5 581.8,475.7 589.6,484.5 595.1,488.9 599.4,487.5 604.3,490.0 613.2,498.3 624.9,510.1 636.7,520.9 642.6,523.8 647.5,521.4 652.4,521.8 657.3,523.8 664.0,522.8 667.7,521.8 675.5,517.9 683.4,516.3 693.2,514.0 701.0,516.9 708.9,515.0 718.7,508.1 726.5,504.2 732.4,499.9 740.3,499.3 746.2,499.3 752.1,502.2 759.9,510.1 767.8,516.9 777.6,524.8 785.4,530.7 790.3,525.8 796.2,524.8 804.1,527.7 809.0,514.0 814.9,502.2 820.8,493.4 826.6,488.5" fill="none" stroke="#3466e2" stroke-width="1.7" stroke-linejoin="round" stroke-linecap="round" />
<line x1="6.00" y1="393.50" x2="1017.00" y2="393.50" stroke="#e9ebef" stroke-width="1" />
<text x="901.80" y="48.04" font-size="8.8" fill="#131722" textLength="33.30" lengthAdjust="spacingAndGlyphs" stroke="#131722" stroke-width="0.14" stroke-linejoin="round" >21.50000</text>
<text x="901.80" y="74.74" font-size="8.8" fill="#131722" textLength="33.30" lengthAdjust="spacingAndGlyphs" stroke="#131722" stroke-width="0.14" stroke-linejoin="round" >21.00000</text>
<text x="901.80" y="102.08" font-size="8.8" fill="#131722" textLength="33.30" lengthAdjust="spacingAndGlyphs" stroke="#131722" stroke-width="0.14" stroke-linejoin="round" >20.50000</text>
<text x="901.80" y="130.09" font-size="8.8" fill="#131722" textLength="33.30" lengthAdjust="spacingAndGlyphs" stroke="#131722" stroke-width="0.14" stroke-linejoin="round" >20.00000</text>
<text x="901.80" y="188.29" font-size="8.8" fill="#131722" textLength="33.30" lengthAdjust="spacingAndGlyphs" stroke="#131722" stroke-width="0.14" stroke-linejoin="round" >19.00000</text>
<text x="901.80" y="212.43" font-size="8.8" fill="#131722" textLength="33.30" lengthAdjust="spacingAndGlyphs" stroke="#131722" stroke-width="0.14" stroke-linejoin="round" >18.60000</text>
<text x="901.80" y="237.10" font-size="8.8" fill="#131722" textLength="33.30" lengthAdjust="spacingAndGlyphs" stroke="#131722" stroke-width="0.14" stroke-linejoin="round" >18.20000</text>
<text x="901.80" y="288.10" font-size="8.8" fill="#131722" textLength="33.30" lengthAdjust="spacingAndGlyphs" stroke="#131722" stroke-width="0.14" stroke-linejoin="round" >17.40000</text>
<text x="901.80" y="314.49" font-size="8.8" fill="#131722" textLength="33.30" lengthAdjust="spacingAndGlyphs" stroke="#131722" stroke-width="0.14" stroke-linejoin="round" >17.00000</text>
<text x="901.80" y="341.50" font-size="8.8" fill="#131722" textLength="33.30" lengthAdjust="spacingAndGlyphs" stroke="#131722" stroke-width="0.14" stroke-linejoin="round" >16.60000</text>
<text x="901.80" y="362.19" font-size="8.8" fill="#131722" textLength="33.30" lengthAdjust="spacingAndGlyphs" stroke="#131722" stroke-width="0.14" stroke-linejoin="round" >16.30000</text>
<text x="901.80" y="383.27" font-size="8.8" fill="#131722" textLength="33.30" lengthAdjust="spacingAndGlyphs" stroke="#131722" stroke-width="0.14" stroke-linejoin="round" >16.00000</text>
<text x="901.80" y="445.05" font-size="8.8" fill="#131722" textLength="33.30" lengthAdjust="spacingAndGlyphs" stroke="#131722" stroke-width="0.14" stroke-linejoin="round" >40.00000</text>
<text x="901.80" y="485.95" font-size="8.8" fill="#131722" textLength="29.00" lengthAdjust="spacingAndGlyphs" stroke="#131722" stroke-width="0.14" stroke-linejoin="round" >0.00000</text>
<text x="901.80" y="526.85" font-size="8.8" fill="#131722" textLength="37.50" lengthAdjust="spacingAndGlyphs" stroke="#131722" stroke-width="0.14" stroke-linejoin="round" >−40.00000</text>
<text x="901.80" y="567.75" font-size="8.8" fill="#131722" textLength="37.50" lengthAdjust="spacingAndGlyphs" stroke="#131722" stroke-width="0.14" stroke-linejoin="round" >−80.00000</text>
<rect x="896" y="126.5" width="42.8" height="11.5" rx="1.2" fill="#a2486f"/>
<text x="901.80" y="135.50" font-size="8.8" fill="#ffffff" textLength="33.30" lengthAdjust="spacingAndGlyphs" stroke="#ffffff" stroke-width="0.14" stroke-linejoin="round" >19.90970</text>
<rect x="896" y="150.3" width="42.8" height="11.5" rx="1.2" fill="#82d3e3"/>
<text x="901.80" y="159.30" font-size="8.8" fill="#131722" textLength="33.30" lengthAdjust="spacingAndGlyphs" stroke="#131722" stroke-width="0.14" stroke-linejoin="round" >19.50000</text>
<rect x="896" y="251.0" width="42.8" height="11.0" rx="1.2" fill="#f23645"/>
<text x="901.80" y="259.75" font-size="8.8" fill="#ffffff" textLength="33.30" lengthAdjust="spacingAndGlyphs" stroke="#ffffff" stroke-width="0.14" stroke-linejoin="round" >17.84943</text>
<rect x="860.5" y="251" width="34.6" height="11" rx="1.2" fill="#f23645"/>
<text x="864.30" y="259.36" font-size="8" fill="#ffffff" textLength="27.50" lengthAdjust="spacingAndGlyphs" stroke="#ffffff" stroke-width="0.14" stroke-linejoin="round" >USDMXN</text>
<rect x="898.5" y="21.2" width="44.5" height="16.8" rx="2.5" fill="#ffffff" stroke="#f1f2f5" stroke-width="1"/>
<text x="904.20" y="33.08" font-size="8.6" fill="#40434d" textLength="15.50" lengthAdjust="spacingAndGlyphs" stroke="#40434d" stroke-width="0.14" stroke-linejoin="round" font-style="italic">MXN</text>
<rect x="898.5" y="397.2" width="44.5" height="16.8" rx="2.5" fill="#ffffff" stroke="#f1f2f5" stroke-width="1"/>
<text x="904.20" y="409.08" font-size="8.6" fill="#40434d" textLength="15.50" lengthAdjust="spacingAndGlyphs" stroke="#40434d" stroke-width="0.14" stroke-linejoin="round" font-style="italic">MXN</text>
<text x="20.50" y="28.35" font-size="8.8" fill="#2a2e39" textLength="16.00" lengthAdjust="spacingAndGlyphs" stroke="#2a2e39" stroke-width="0.14" stroke-linejoin="round" >0.00</text>
<text x="56.20" y="28.35" font-size="8.8" fill="#2a2e39" textLength="16.00" lengthAdjust="spacingAndGlyphs" stroke="#2a2e39" stroke-width="0.14" stroke-linejoin="round" >0.00</text>
<text x="952.20" y="28.35" font-size="8.8" fill="#2a2e39" textLength="16.00" lengthAdjust="spacingAndGlyphs" stroke="#2a2e39" stroke-width="0.14" stroke-linejoin="round" >0.00</text>
<text x="987.60" y="28.35" font-size="8.8" fill="#2a2e39" textLength="16.00" lengthAdjust="spacingAndGlyphs" stroke="#2a2e39" stroke-width="0.14" stroke-linejoin="round" >0.00</text>
<text x="20.50" y="66.65" font-size="8.8" fill="#2a2e39" textLength="16.00" lengthAdjust="spacingAndGlyphs" stroke="#2a2e39" stroke-width="0.14" stroke-linejoin="round" >0.00</text>
<text x="56.20" y="66.65" font-size="8.8" fill="#2a2e39" textLength="16.00" lengthAdjust="spacingAndGlyphs" stroke="#2a2e39" stroke-width="0.14" stroke-linejoin="round" >0.00</text>
<text x="952.20" y="66.65" font-size="8.8" fill="#2a2e39" textLength="16.00" lengthAdjust="spacingAndGlyphs" stroke="#2a2e39" stroke-width="0.14" stroke-linejoin="round" >0.00</text>
<text x="987.60" y="66.65" font-size="8.8" fill="#2a2e39" textLength="16.00" lengthAdjust="spacingAndGlyphs" stroke="#2a2e39" stroke-width="0.14" stroke-linejoin="round" >0.00</text>
<text x="20.50" y="90.65" font-size="8.8" fill="#2a2e39" textLength="16.00" lengthAdjust="spacingAndGlyphs" stroke="#2a2e39" stroke-width="0.14" stroke-linejoin="round" >0.00</text>
<text x="56.20" y="90.65" font-size="8.8" fill="#2a2e39" textLength="16.00" lengthAdjust="spacingAndGlyphs" stroke="#2a2e39" stroke-width="0.14" stroke-linejoin="round" >0.00</text>
<text x="952.20" y="90.65" font-size="8.8" fill="#2a2e39" textLength="16.00" lengthAdjust="spacingAndGlyphs" stroke="#2a2e39" stroke-width="0.14" stroke-linejoin="round" >0.00</text>
<text x="987.60" y="90.65" font-size="8.8" fill="#2a2e39" textLength="16.00" lengthAdjust="spacingAndGlyphs" stroke="#2a2e39" stroke-width="0.14" stroke-linejoin="round" >0.00</text>
<text x="20.50" y="120.65" font-size="8.8" fill="#2a2e39" textLength="16.00" lengthAdjust="spacingAndGlyphs" stroke="#2a2e39" stroke-width="0.14" stroke-linejoin="round" >0.00</text>
<text x="56.20" y="120.65" font-size="8.8" fill="#2a2e39" textLength="16.00" lengthAdjust="spacingAndGlyphs" stroke="#2a2e39" stroke-width="0.14" stroke-linejoin="round" >0.00</text>
<text x="952.20" y="120.65" font-size="8.8" fill="#2a2e39" textLength="16.00" lengthAdjust="spacingAndGlyphs" stroke="#2a2e39" stroke-width="0.14" stroke-linejoin="round" >0.00</text>
<text x="987.60" y="120.65" font-size="8.8" fill="#2a2e39" textLength="16.00" lengthAdjust="spacingAndGlyphs" stroke="#2a2e39" stroke-width="0.14" stroke-linejoin="round" >0.00</text>
<text x="20.50" y="159.05" font-size="8.8" fill="#2a2e39" textLength="16.00" lengthAdjust="spacingAndGlyphs" stroke="#2a2e39" stroke-width="0.14" stroke-linejoin="round" >0.00</text>
<text x="56.20" y="159.05" font-size="8.8" fill="#2a2e39" textLength="16.00" lengthAdjust="spacingAndGlyphs" stroke="#2a2e39" stroke-width="0.14" stroke-linejoin="round" >0.00</text>
<text x="952.20" y="159.05" font-size="8.8" fill="#2a2e39" textLength="16.00" lengthAdjust="spacingAndGlyphs" stroke="#2a2e39" stroke-width="0.14" stroke-linejoin="round" >0.00</text>
<text x="987.60" y="159.05" font-size="8.8" fill="#2a2e39" textLength="16.00" lengthAdjust="spacingAndGlyphs" stroke="#2a2e39" stroke-width="0.14" stroke-linejoin="round" >0.00</text>
<text x="20.50" y="200.05" font-size="8.8" fill="#2a2e39" textLength="16.00" lengthAdjust="spacingAndGlyphs" stroke="#2a2e39" stroke-width="0.14" stroke-linejoin="round" >0.00</text>
<text x="56.20" y="200.05" font-size="8.8" fill="#2a2e39" textLength="16.00" lengthAdjust="spacingAndGlyphs" stroke="#2a2e39" stroke-width="0.14" stroke-linejoin="round" >0.00</text>
<text x="952.20" y="200.05" font-size="8.8" fill="#2a2e39" textLength="16.00" lengthAdjust="spacingAndGlyphs" stroke="#2a2e39" stroke-width="0.14" stroke-linejoin="round" >0.00</text>
<text x="987.60" y="200.05" font-size="8.8" fill="#2a2e39" textLength="16.00" lengthAdjust="spacingAndGlyphs" stroke="#2a2e39" stroke-width="0.14" stroke-linejoin="round" >0.00</text>
<text x="16.50" y="225.05" font-size="8.8" fill="#2a2e39" textLength="20.00" lengthAdjust="spacingAndGlyphs" stroke="#2a2e39" stroke-width="0.14" stroke-linejoin="round" >−0.00</text>
<text x="52.20" y="225.05" font-size="8.8" fill="#2a2e39" textLength="20.00" lengthAdjust="spacingAndGlyphs" stroke="#2a2e39" stroke-width="0.14" stroke-linejoin="round" >−0.00</text>
<text x="953.00" y="225.05" font-size="8.8" fill="#2a2e39" textLength="20.00" lengthAdjust="spacingAndGlyphs" stroke="#2a2e39" stroke-width="0.14" stroke-linejoin="round" >−0.00</text>
<text x="988.40" y="225.05" font-size="8.8" fill="#2a2e39" textLength="20.00" lengthAdjust="spacingAndGlyphs" stroke="#2a2e39" stroke-width="0.14" stroke-linejoin="round" >−0.00</text>
<text x="16.50" y="247.65" font-size="8.8" fill="#2a2e39" textLength="20.00" lengthAdjust="spacingAndGlyphs" stroke="#2a2e39" stroke-width="0.14" stroke-linejoin="round" >−0.00</text>
<text x="52.20" y="247.65" font-size="8.8" fill="#2a2e39" textLength="20.00" lengthAdjust="spacingAndGlyphs" stroke="#2a2e39" stroke-width="0.14" stroke-linejoin="round" >−0.00</text>
<text x="953.00" y="247.65" font-size="8.8" fill="#2a2e39" textLength="20.00" lengthAdjust="spacingAndGlyphs" stroke="#2a2e39" stroke-width="0.14" stroke-linejoin="round" >−0.00</text>
<text x="988.40" y="247.65" font-size="8.8" fill="#2a2e39" textLength="20.00" lengthAdjust="spacingAndGlyphs" stroke="#2a2e39" stroke-width="0.14" stroke-linejoin="round" >−0.00</text>
<text x="16.50" y="283.15" font-size="8.8" fill="#2a2e39" textLength="20.00" lengthAdjust="spacingAndGlyphs" stroke="#2a2e39" stroke-width="0.14" stroke-linejoin="round" >−0.00</text>
<text x="52.20" y="283.15" font-size="8.8" fill="#2a2e39" textLength="20.00" lengthAdjust="spacingAndGlyphs" stroke="#2a2e39" stroke-width="0.14" stroke-linejoin="round" >−0.00</text>
<text x="953.00" y="283.15" font-size="8.8" fill="#2a2e39" textLength="20.00" lengthAdjust="spacingAndGlyphs" stroke="#2a2e39" stroke-width="0.14" stroke-linejoin="round" >−0.00</text>
<text x="988.40" y="283.15" font-size="8.8" fill="#2a2e39" textLength="20.00" lengthAdjust="spacingAndGlyphs" stroke="#2a2e39" stroke-width="0.14" stroke-linejoin="round" >−0.00</text>
<text x="16.50" y="311.35" font-size="8.8" fill="#2a2e39" textLength="20.00" lengthAdjust="spacingAndGlyphs" stroke="#2a2e39" stroke-width="0.14" stroke-linejoin="round" >−0.00</text>
<text x="52.20" y="311.35" font-size="8.8" fill="#2a2e39" textLength="20.00" lengthAdjust="spacingAndGlyphs" stroke="#2a2e39" stroke-width="0.14" stroke-linejoin="round" >−0.00</text>
<text x="953.00" y="311.35" font-size="8.8" fill="#2a2e39" textLength="20.00" lengthAdjust="spacingAndGlyphs" stroke="#2a2e39" stroke-width="0.14" stroke-linejoin="round" >−0.00</text>
<text x="988.40" y="311.35" font-size="8.8" fill="#2a2e39" textLength="20.00" lengthAdjust="spacingAndGlyphs" stroke="#2a2e39" stroke-width="0.14" stroke-linejoin="round" >−0.00</text>
<text x="16.50" y="334.35" font-size="8.8" fill="#2a2e39" textLength="20.00" lengthAdjust="spacingAndGlyphs" stroke="#2a2e39" stroke-width="0.14" stroke-linejoin="round" >−0.00</text>
<text x="52.20" y="334.35" font-size="8.8" fill="#2a2e39" textLength="20.00" lengthAdjust="spacingAndGlyphs" stroke="#2a2e39" stroke-width="0.14" stroke-linejoin="round" >−0.00</text>
<text x="953.00" y="334.35" font-size="8.8" fill="#2a2e39" textLength="20.00" lengthAdjust="spacingAndGlyphs" stroke="#2a2e39" stroke-width="0.14" stroke-linejoin="round" >−0.00</text>
<text x="988.40" y="334.35" font-size="8.8" fill="#2a2e39" textLength="20.00" lengthAdjust="spacingAndGlyphs" stroke="#2a2e39" stroke-width="0.14" stroke-linejoin="round" >−0.00</text>
<text x="16.50" y="358.65" font-size="8.8" fill="#2a2e39" textLength="20.00" lengthAdjust="spacingAndGlyphs" stroke="#2a2e39" stroke-width="0.14" stroke-linejoin="round" >−0.00</text>
<text x="52.20" y="358.65" font-size="8.8" fill="#2a2e39" textLength="20.00" lengthAdjust="spacingAndGlyphs" stroke="#2a2e39" stroke-width="0.14" stroke-linejoin="round" >−0.00</text>
<text x="953.00" y="358.65" font-size="8.8" fill="#2a2e39" textLength="20.00" lengthAdjust="spacingAndGlyphs" stroke="#2a2e39" stroke-width="0.14" stroke-linejoin="round" >−0.00</text>
<text x="988.40" y="358.65" font-size="8.8" fill="#2a2e39" textLength="20.00" lengthAdjust="spacingAndGlyphs" stroke="#2a2e39" stroke-width="0.14" stroke-linejoin="round" >−0.00</text>
<text x="16.50" y="378.85" font-size="8.8" fill="#2a2e39" textLength="20.00" lengthAdjust="spacingAndGlyphs" stroke="#2a2e39" stroke-width="0.14" stroke-linejoin="round" >−0.00</text>
<text x="52.20" y="378.85" font-size="8.8" fill="#2a2e39" textLength="20.00" lengthAdjust="spacingAndGlyphs" stroke="#2a2e39" stroke-width="0.14" stroke-linejoin="round" >−0.00</text>
<text x="953.00" y="378.85" font-size="8.8" fill="#2a2e39" textLength="20.00" lengthAdjust="spacingAndGlyphs" stroke="#2a2e39" stroke-width="0.14" stroke-linejoin="round" >−0.00</text>
<text x="988.40" y="378.85" font-size="8.8" fill="#2a2e39" textLength="20.00" lengthAdjust="spacingAndGlyphs" stroke="#2a2e39" stroke-width="0.14" stroke-linejoin="round" >−0.00</text>
<text x="114.00" y="584.58" font-size="8.6" fill="#131722" text-anchor="middle" textLength="14.00" lengthAdjust="spacingAndGlyphs" stroke="#131722" stroke-width="0.14" stroke-linejoin="round" >Mar</text>
<text x="149.50" y="584.58" font-size="8.6" fill="#131722" text-anchor="middle" textLength="14.50" lengthAdjust="spacingAndGlyphs" stroke="#131722" stroke-width="0.14" stroke-linejoin="round" >May</text>
<text x="189.70" y="584.58" font-size="8.6" fill="#131722" text-anchor="middle" textLength="10.50" lengthAdjust="spacingAndGlyphs" stroke="#131722" stroke-width="0.14" stroke-linejoin="round" >Jul</text>
<text x="229.50" y="584.58" font-size="8.6" fill="#131722" text-anchor="middle" textLength="13.50" lengthAdjust="spacingAndGlyphs" stroke="#131722" stroke-width="0.14" stroke-linejoin="round" >Sep</text>
<text x="269.80" y="584.58" font-size="8.6" fill="#131722" text-anchor="middle" textLength="14.00" lengthAdjust="spacingAndGlyphs" stroke="#131722" stroke-width="0.14" stroke-linejoin="round" >Nov</text>
<text x="306.00" y="584.58" font-size="8.6" fill="#131722" text-anchor="middle" textLength="19.00" lengthAdjust="spacingAndGlyphs" font-weight="bold" >2024</text>
<text x="345.20" y="584.58" font-size="8.6" fill="#131722" text-anchor="middle" textLength="14.00" lengthAdjust="spacingAndGlyphs" stroke="#131722" stroke-width="0.14" stroke-linejoin="round" >Mar</text>
<text x="385.50" y="584.58" font-size="8.6" fill="#131722" text-anchor="middle" textLength="14.50" lengthAdjust="spacingAndGlyphs" stroke="#131722" stroke-width="0.14" stroke-linejoin="round" >May</text>
<text x="421.00" y="584.58" font-size="8.6" fill="#131722" text-anchor="middle" textLength="10.50" lengthAdjust="spacingAndGlyphs" stroke="#131722" stroke-width="0.14" stroke-linejoin="round" >Jul</text>
<text x="461.00" y="584.58" font-size="8.6" fill="#131722" text-anchor="middle" textLength="13.50" lengthAdjust="spacingAndGlyphs" stroke="#131722" stroke-width="0.14" stroke-linejoin="round" >Sep</text>
<text x="501.00" y="584.58" font-size="8.6" fill="#131722" text-anchor="middle" textLength="14.00" lengthAdjust="spacingAndGlyphs" stroke="#131722" stroke-width="0.14" stroke-linejoin="round" >Nov</text>
<text x="541.50" y="584.58" font-size="8.6" fill="#131722" text-anchor="middle" textLength="19.00" lengthAdjust="spacingAndGlyphs" font-weight="bold" >2025</text>
<text x="577.00" y="584.58" font-size="8.6" fill="#131722" text-anchor="middle" textLength="14.00" lengthAdjust="spacingAndGlyphs" stroke="#131722" stroke-width="0.14" stroke-linejoin="round" >Mar</text>
<text x="616.70" y="584.58" font-size="8.6" fill="#131722" text-anchor="middle" textLength="14.50" lengthAdjust="spacingAndGlyphs" stroke="#131722" stroke-width="0.14" stroke-linejoin="round" >May</text>
<text x="657.00" y="584.58" font-size="8.6" fill="#131722" text-anchor="middle" textLength="10.50" lengthAdjust="spacingAndGlyphs" stroke="#131722" stroke-width="0.14" stroke-linejoin="round" >Jul</text>
<text x="692.70" y="584.58" font-size="8.6" fill="#131722" text-anchor="middle" textLength="13.50" lengthAdjust="spacingAndGlyphs" stroke="#131722" stroke-width="0.14" stroke-linejoin="round" >Sep</text>
<text x="733.00" y="584.58" font-size="8.6" fill="#131722" text-anchor="middle" textLength="14.00" lengthAdjust="spacingAndGlyphs" stroke="#131722" stroke-width="0.14" stroke-linejoin="round" >Nov</text>
<text x="773.00" y="584.58" font-size="8.6" fill="#131722" text-anchor="middle" textLength="19.00" lengthAdjust="spacingAndGlyphs" font-weight="bold" >2026</text>
<text x="808.00" y="584.58" font-size="8.6" fill="#131722" text-anchor="middle" textLength="14.00" lengthAdjust="spacingAndGlyphs" stroke="#131722" stroke-width="0.14" stroke-linejoin="round" >Mar</text>
<text x="848.00" y="584.58" font-size="8.6" fill="#131722" text-anchor="middle" textLength="14.50" lengthAdjust="spacingAndGlyphs" stroke="#131722" stroke-width="0.14" stroke-linejoin="round" >May</text>
<text x="888.50" y="584.58" font-size="8.6" fill="#131722" text-anchor="middle" textLength="10.50" lengthAdjust="spacingAndGlyphs" stroke="#131722" stroke-width="0.14" stroke-linejoin="round" >Jul</text>
<circle cx="24.6" cy="582" r="5.8" fill="#f4f5f7"/>
<text x="24.60" y="584.78" font-size="7.2" fill="#777a84" text-anchor="middle" stroke="#777a84" stroke-width="0.14" stroke-linejoin="round" >Y</text>
<circle cx="60.2" cy="582" r="5.8" fill="#f4f5f7"/>
<text x="60.20" y="584.78" font-size="7.2" fill="#777a84" text-anchor="middle" stroke="#777a84" stroke-width="0.14" stroke-linejoin="round" >Z</text>
<circle cx="921.3" cy="582" r="5.8" fill="#f4f5f7"/>
<text x="921.30" y="584.78" font-size="7.2" fill="#777a84" text-anchor="middle" stroke="#777a84" stroke-width="0.14" stroke-linejoin="round" >A</text>
<circle cx="964.2" cy="582" r="5.8" fill="#f4f5f7"/>
<text x="964.20" y="584.78" font-size="7.2" fill="#777a84" text-anchor="middle" stroke="#777a84" stroke-width="0.14" stroke-linejoin="round" >B</text>
<circle cx="999.4" cy="582" r="5.8" fill="#f4f5f7"/>
<text x="999.40" y="584.78" font-size="7.2" fill="#777a84" text-anchor="middle" stroke="#777a84" stroke-width="0.14" stroke-linejoin="round" >C</text>
<circle cx="827" cy="367.0" r="6.6" fill="#ffffff" stroke="#a443c9" stroke-width="1.0"/>
<path d="M829.0 362.8L824.0 367.9h2.6l-1.6 3.6L830.2 366.2h-2.7z" fill="#a443c9"/>
<g><circle cx="831.4" cy="383.7" r="6.2" fill="#ffffff" stroke="#f0505c" stroke-width="1.0"/><clipPath id="c831"><circle cx="831.4" cy="383.7" r="5.0"/></clipPath><g clip-path="url(#c831)"><rect x="825.4" y="377.7" width="12" height="12" fill="#fbe3e4"/><rect x="825.4" y="378.5" width="12" height="1.25" fill="#ef4a55"/><rect x="825.4" y="380.6" width="12" height="1.25" fill="#ef4a55"/><rect x="825.4" y="382.7" width="12" height="1.25" fill="#ef4a55"/><rect x="825.4" y="384.8" width="12" height="1.25" fill="#ef4a55"/><rect x="825.4" y="386.9" width="12" height="1.25" fill="#ef4a55"/><rect x="825.4" y="389.0" width="12" height="1.25" fill="#ef4a55"/><rect x="825.4" y="377.7" width="8.2" height="7.2" fill="#4a8fe6"/></g></g>
<g><circle cx="825.9" cy="383.7" r="6.2" fill="#ffffff" stroke="#f0505c" stroke-width="1.0"/><clipPath id="c825"><circle cx="825.9" cy="383.7" r="5.0"/></clipPath><g clip-path="url(#c825)"><rect x="819.9" y="377.7" width="12" height="12" fill="#fbe3e4"/><rect x="819.9" y="378.5" width="12" height="1.25" fill="#ef4a55"/><rect x="819.9" y="380.6" width="12" height="1.25" fill="#ef4a55"/><rect x="819.9" y="382.7" width="12" height="1.25" fill="#ef4a55"/><rect x="819.9" y="384.8" width="12" height="1.25" fill="#ef4a55"/><rect x="819.9" y="386.9" width="12" height="1.25" fill="#ef4a55"/><rect x="819.9" y="389.0" width="12" height="1.25" fill="#ef4a55"/><rect x="819.9" y="377.7" width="8.2" height="7.2" fill="#4a8fe6"/></g></g>
<text x="83.60" y="31.74" font-size="8.2" fill="#131722" textLength="143.50" lengthAdjust="spacingAndGlyphs" stroke="#131722" stroke-width="0.14" stroke-linejoin="round" >U.S. Dollar / Mexican Peso · 1W · FXCM</text>
<text x="232.60" y="31.74" font-size="8.2" fill="#131722" textLength="5.40" lengthAdjust="spacingAndGlyphs" stroke="#131722" stroke-width="0.14" stroke-linejoin="round" >O</text>
<text x="238.20" y="31.74" font-size="8.2" fill="#f23645" textLength="33.30" lengthAdjust="spacingAndGlyphs" stroke="#f23645" stroke-width="0.14" stroke-linejoin="round" >18.10300</text>
<text x="276.00" y="31.74" font-size="8.2" fill="#131722" textLength="5.20" lengthAdjust="spacingAndGlyphs" stroke="#131722" stroke-width="0.14" stroke-linejoin="round" >H</text>
<text x="281.40" y="31.74" font-size="8.2" fill="#f23645" textLength="32.80" lengthAdjust="spacingAndGlyphs" stroke="#f23645" stroke-width="0.14" stroke-linejoin="round" >18.16062</text>
<text x="319.30" y="31.74" font-size="8.2" fill="#131722" textLength="4.00" lengthAdjust="spacingAndGlyphs" stroke="#131722" stroke-width="0.14" stroke-linejoin="round" >L</text>
<text x="323.40" y="31.74" font-size="8.2" fill="#f23645" textLength="32.80" lengthAdjust="spacingAndGlyphs" stroke="#f23645" stroke-width="0.14" stroke-linejoin="round" >17.78085</text>
<text x="361.60" y="31.74" font-size="8.2" fill="#131722" textLength="5.00" lengthAdjust="spacingAndGlyphs" stroke="#131722" stroke-width="0.14" stroke-linejoin="round" >C</text>
<text x="366.60" y="31.74" font-size="8.2" fill="#f23645" textLength="32.60" lengthAdjust="spacingAndGlyphs" stroke="#f23645" stroke-width="0.14" stroke-linejoin="round" >17.84943</text>
<text x="404.80" y="31.74" font-size="8.2" fill="#f23645" textLength="65.70" lengthAdjust="spacingAndGlyphs" stroke="#f23645" stroke-width="0.14" stroke-linejoin="round" >−0.25357 (−1.40%)</text>
<text x="83.60" y="43.14" font-size="8.2" fill="#131722" textLength="435.50" lengthAdjust="spacingAndGlyphs" stroke="#131722" stroke-width="0.14" stroke-linejoin="round" >Pivots (12, AUTO, 15, Left, 8, 20, Show Both, Show None, Dashed, 2, 3, hlc3, 300, 21, 0.0001, 10, close, Time, 300, 2)</text>
<text x="83.60" y="407.04" font-size="8.2" fill="#131722" textLength="227.00" lengthAdjust="spacingAndGlyphs" stroke="#131722" stroke-width="0.14" stroke-linejoin="round" >RW ft. F-MOD (0, 20, 10, 1, 5, 0, 20, 10, 12, 2, 20, 10, 21, 50)</text>
<text x="316.00" y="407.04" font-size="8.2" fill="#fb9a2a" textLength="28.30" lengthAdjust="spacingAndGlyphs" stroke="#fb9a2a" stroke-width="0.14" stroke-linejoin="round" >0.00000</text>
<text x="349.80" y="407.04" font-size="8.2" fill="#3bd43b" textLength="28.70" lengthAdjust="spacingAndGlyphs" stroke="#3bd43b" stroke-width="0.14" stroke-linejoin="round" >0.00000</text>
<text x="384.00" y="407.04" font-size="8.2" fill="#96479f" textLength="32.00" lengthAdjust="spacingAndGlyphs" stroke="#96479f" stroke-width="0.14" stroke-linejoin="round" >16.29639</text>
<text x="421.50" y="407.04" font-size="8.2" fill="#a24fc4" textLength="28.30" lengthAdjust="spacingAndGlyphs" stroke="#a24fc4" stroke-width="0.14" stroke-linejoin="round" >0.00000</text>
<text x="455.20" y="407.04" font-size="8.2" fill="#cf5be0" textLength="28.30" lengthAdjust="spacingAndGlyphs" stroke="#cf5be0" stroke-width="0.14" stroke-linejoin="round" >0.00000</text>
<text x="489.00" y="407.04" font-size="8.2" fill="#cf5be0" textLength="28.50" lengthAdjust="spacingAndGlyphs" stroke="#cf5be0" stroke-width="0.14" stroke-linejoin="round" >0.00000</text>
<text x="522.50" y="407.04" font-size="8.2" fill="#ea4b4b" textLength="28.70" lengthAdjust="spacingAndGlyphs" stroke="#ea4b4b" stroke-width="0.14" stroke-linejoin="round" >0.00000</text>
<text x="556.50" y="407.04" font-size="8.2" fill="#5a48ea" textLength="28.50" lengthAdjust="spacingAndGlyphs" stroke="#5a48ea" stroke-width="0.14" stroke-linejoin="round" >0.00000</text>
<text x="590.30" y="407.04" font-size="8.2" fill="#56b35c" textLength="32.20" lengthAdjust="spacingAndGlyphs" stroke="#56b35c" stroke-width="0.14" stroke-linejoin="round" >42.97361</text>
<text x="628.80" y="407.04" font-size="8.2" fill="#f06a6a" textLength="28.20" lengthAdjust="spacingAndGlyphs" stroke="#f06a6a" stroke-width="0.14" stroke-linejoin="round" >1.96960</text>
<text x="662.00" y="407.04" font-size="8.2" fill="#3d78e8" textLength="37.00" lengthAdjust="spacingAndGlyphs" stroke="#3d78e8" stroke-width="0.14" stroke-linejoin="round" >−20.26389</text>
<text x="704.50" y="407.04" font-size="8.2" fill="#f5a040" textLength="32.50" lengthAdjust="spacingAndGlyphs" stroke="#f5a040" stroke-width="0.14" stroke-linejoin="round" >−6.69255</text>
<text x="742.00" y="407.04" font-size="8.2" fill="#ea5050" textLength="28.80" lengthAdjust="spacingAndGlyphs" stroke="#ea5050" stroke-width="0.14" stroke-linejoin="round" >0.00000</text>
<text x="776.00" y="407.04" font-size="8.2" fill="#3a3ae8" textLength="37.00" lengthAdjust="spacingAndGlyphs" stroke="#3a3ae8" stroke-width="0.14" stroke-linejoin="round" >0.00000...</text>
<g transform="translate(8.1,603.5) scale(0.585,0.585)" fill="#131722"><path d="M14 22H7V11H0V4h14v18z"/><circle cx="20" cy="8" r="4"/><path d="M28 22h-8l7.5-18h8L28 22z"/></g>
<text x="33.50" y="615.70" font-size="14.8" fill="#131722" textLength="82.30" lengthAdjust="spacingAndGlyphs" font-weight="bold" >TradingView</text>
</svg></body></html>
